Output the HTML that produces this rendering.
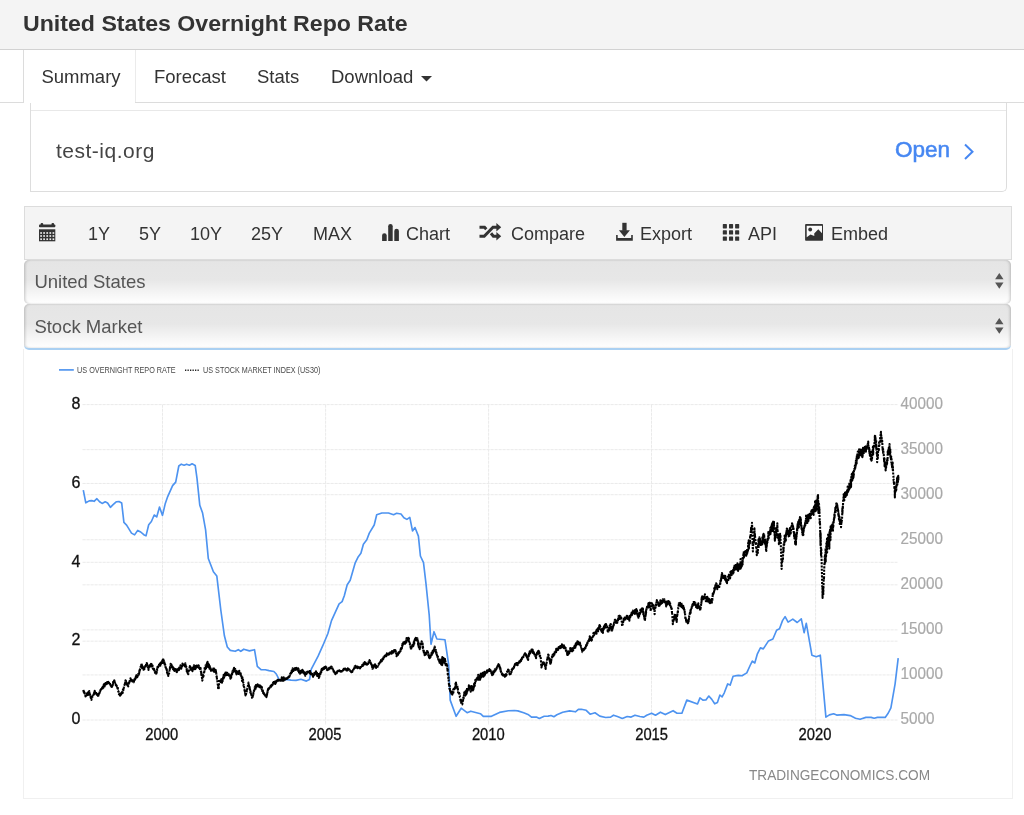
<!DOCTYPE html>
<html><head><meta charset="utf-8">
<style>
*{box-sizing:border-box;margin:0;padding:0}
html,body{width:1024px;height:815px;overflow:hidden;background:#fff;font-family:"Liberation Sans",sans-serif;color:#333}
.abs{position:absolute}
#hdr,#tabs,#ad,#tb,.sel{will-change:transform}
#hdr{position:absolute;left:0;top:0;width:1024px;height:50px;background:#f4f4f4;border-bottom:1px solid #d2d2d2}
#hdr h1{position:absolute;left:23px;top:11px;font-size:22px;font-weight:bold;color:#333;letter-spacing:0;transform:scaleX(1.052);transform-origin:0 0;white-space:nowrap}
#tabs{position:absolute;left:0;top:50px;width:1024px;height:53px}
.tab{position:absolute;top:15.5px;font-size:18.5px;color:#333;white-space:nowrap}
#tl1{position:absolute;left:0;top:52px;width:24px;height:1px;background:#dcdcdc}
#tl2{position:absolute;left:23px;top:0;width:1px;height:53px;background:#dcdcdc}
#tl3{position:absolute;left:135px;top:0;width:1px;height:53px;background:#ebebeb}
#tl4{position:absolute;left:135px;top:52px;width:889px;height:1px;background:#dcdcdc}
#ad{position:absolute;left:30px;top:103px;width:977px;height:89px;border:1px solid #ddd;border-top:none;border-radius:0 0 5px 0;background:#fff}
#ad .line{position:absolute;left:0;right:0;top:7px;height:1px;background:#e8e8e8}
#tb{position:absolute;left:24px;top:206px;width:988px;height:54px;background:#f4f4f4;border:1px solid #dcdcdc}
.ti{position:absolute;top:17px;font-size:18px;color:#333;white-space:nowrap}
.sel{position:absolute;left:24px;width:987px;border-radius:5px;background:linear-gradient(#e5e5e5,#e7e7e7 45%,#f7f7f7 80%,#fdfdfd 95%,#fefefe);box-shadow:inset 2px 0 3px -1px rgba(0,0,0,.2),inset -2px 0 3px -1px rgba(0,0,0,.2)}
.sel span{position:absolute;left:10.4px;font-size:18.5px;color:#555}
#chartbox{position:absolute;left:23px;top:349px;width:990px;height:450px;border:1px solid #f0f0f0;border-top:none}
</style></head><body>
<div id="hdr"><h1>United States Overnight Repo Rate</h1></div>
<div id="tabs">
  <div id="tl1"></div><div id="tl2"></div><div id="tl3"></div><div id="tl4"></div>
  <div class="tab" style="left:41.4px">Summary</div>
  <div class="tab" style="left:154px">Forecast</div>
  <div class="tab" style="left:257px">Stats</div>
  <div class="tab" style="left:331px">Download</div>
  <svg class="abs" style="left:421px;top:26px" width="11" height="6"><path d="M0 0 L11 0 L5.5 5.5 Z" fill="#333"/></svg>
</div>
<div id="ad"><div class="line"></div>
  <div class="abs" style="left:25px;top:36px;font-size:21px;letter-spacing:0.5px;color:#444">test-iq.org</div>
  <div class="abs" style="left:864px;top:34px;font-size:22.5px;color:#4687f2;-webkit-text-stroke:0.55px #4687f2">Open</div>
  <svg class="abs" style="left:932px;top:40px" width="12" height="18"><path d="M2 1.5 L9.5 8.7 L2 16" fill="none" stroke="#4687f2" stroke-width="2"/></svg>
</div>
<div id="tb">
  <!-- calendar -->
  <svg class="abs" style="left:13.6px;top:15.5px" width="17" height="19" viewBox="0 0 17 19">
    <rect x="1.6" y="0" width="2.6" height="3" rx="1" fill="#333"/><rect x="12.5" y="0" width="2.6" height="3" rx="1" fill="#333"/>
    <rect x="0" y="1.4" width="16.3" height="2.9" rx="0.8" fill="#333"/>
    <rect x="0" y="6.3" width="16.3" height="12" fill="#333"/>
    <g fill="#ececec"><rect x="1.25" y="9.15" width="1.7" height="1.7"/><rect x="4.25" y="9.15" width="1.7" height="1.7"/><rect x="7.35" y="9.15" width="1.7" height="1.7"/><rect x="10.45" y="9.15" width="1.7" height="1.7"/><rect x="13.55" y="9.15" width="1.7" height="1.7"/><rect x="1.25" y="12.15" width="1.7" height="1.7"/><rect x="4.25" y="12.15" width="1.7" height="1.7"/><rect x="7.35" y="12.15" width="1.7" height="1.7"/><rect x="10.45" y="12.15" width="1.7" height="1.7"/><rect x="13.55" y="12.15" width="1.7" height="1.7"/><rect x="1.25" y="15.35" width="1.7" height="1.7"/><rect x="4.25" y="15.35" width="1.7" height="1.7"/><rect x="7.35" y="15.35" width="1.7" height="1.7"/><rect x="10.45" y="15.35" width="1.7" height="1.7"/><rect x="13.55" y="15.35" width="1.7" height="1.7"/></g>
  </svg>
  <div class="ti" style="left:63px">1Y</div>
  <div class="ti" style="left:114px">5Y</div>
  <div class="ti" style="left:165px">10Y</div>
  <div class="ti" style="left:226px">25Y</div>
  <div class="ti" style="left:288px">MAX</div>
  <svg class="abs" style="left:355px;top:15px" width="21" height="20" viewBox="380 222 21 20"><g fill="#333"><path d="M382.1 240.9 V235.5 a2.3 2.3 0 0 1 4.6 0 V240.9 Z"/><path d="M388.2 240.9 V226.3 a2.25 2.25 0 0 1 4.5 0 V240.9 Z"/><path d="M394.3 240.9 V231 a2.3 2.3 0 0 1 4.6 0 V240.9 Z"/></g></svg>
  <div class="ti" style="left:381px">Chart</div>
  <svg class="abs" style="left:453px;top:14px" width="25" height="21" viewBox="478 221 25 21"><g fill="none" stroke="#333" stroke-width="3"><path d="M479.5 227.2 H484.5 L486.3 229.2"/><path d="M479.5 236.3 H484.2 L493 227.2 H497.5"/><path d="M491 233.3 L493.4 236.3 H497.5"/></g><g fill="#333"><path d="M496.4 222.9 L501.2 227.2 L496.4 231.4 Z"/><path d="M496.4 232.1 L501.2 236.3 L496.4 240.5 Z"/></g></svg>
  <div class="ti" style="left:486px">Compare</div>
  <svg class="abs" style="left:590px;top:15px" width="19" height="20" viewBox="615 222 19 20"><g fill="#333"><rect x="622.3" y="222.8" width="4.3" height="8"/><path d="M618.9 230.3 H629.9 L624.4 237.1 Z"/><path d="M616.1 235.1 V240.8 H632.8 V235.1 H631.2 V238.1 H617.7 V235.1 Z"/></g></svg>
  <div class="ti" style="left:615px">Export</div>
  <svg class="abs" style="left:697px;top:16px" width="18" height="19" viewBox="722 223 18 19"><g fill="#333"><rect x="722.8" y="224.1" width="4.1" height="4.3" rx="0.6"/><rect x="729" y="224.1" width="4.1" height="4.3" rx="0.6"/><rect x="735.1" y="224.1" width="4.1" height="4.3" rx="0.6"/><rect x="722.8" y="230.3" width="4.1" height="4.3" rx="0.6"/><rect x="729" y="230.3" width="4.1" height="4.3" rx="0.6"/><rect x="735.1" y="230.3" width="4.1" height="4.3" rx="0.6"/><rect x="722.8" y="236.5" width="4.1" height="4.3" rx="0.6"/><rect x="729" y="236.5" width="4.1" height="4.3" rx="0.6"/><rect x="735.1" y="236.5" width="4.1" height="4.3" rx="0.6"/></g></svg>
  <div class="ti" style="left:723px">API</div>
  <svg class="abs" style="left:779px;top:16px" width="20" height="19" viewBox="804 223 20 19"><rect x="805.1" y="224.1" width="17.9" height="16.7" rx="0.8" fill="#333"/><rect x="806.7" y="225.8" width="15.3" height="11.5" fill="#fafafa"/><circle cx="810.2" cy="229.5" r="1.9" fill="#333"/><path d="M806.7 237.3 L810.5 234.4 L814.3 236 L814.2 233.6 L818.3 229.2 L822 233.3 V238 H806.7 Z" fill="#333"/></svg>
  <div class="ti" style="left:806px">Embed</div>
</div>
<div class="sel" style="top:260px;height:43.5px"><span style="top:11.2px">United States</span>
  <svg class="abs" style="left:970.6px;top:13.3px" width="9" height="16" viewBox="0 0 9 16"><path d="M4.3 0 L8.5 6.3 H0.1 Z M4.3 15.7 L8.5 9.4 H0.1 Z" fill="#555"/></svg></div>
<div class="sel" style="top:304px;height:46px;border-bottom:2px solid #aad0f2"><span style="top:12.2px">Stock Market</span>
  <svg class="abs" style="left:970.6px;top:14.2px" width="9" height="16" viewBox="0 0 9 16"><path d="M4.3 0 L8.5 6.3 H0.1 Z M4.3 15.7 L8.5 9.4 H0.1 Z" fill="#555"/></svg></div>
<div id="chartbox"></div>
<svg class="abs" style="left:0;top:0" width="1024" height="815" viewBox="0 0 1024 815">
  <g stroke="#eaeaea" stroke-width="1" stroke-dasharray="3.2 0.8" fill="none">
    <path d="M82.5 404.6 H897.5 M82.5 449.66 H897.5 M82.5 483.45 H897.5 M82.5 494.71 H897.5 M82.5 539.77 H897.5 M82.5 562.3 H897.5 M82.5 584.83 H897.5 M82.5 629.89 H897.5 M82.5 641.15 H897.5 M82.5 674.94 H897.5 M82.5 720.0 H897.5"/>
    <path d="M162.5 404.6 V725 M325.6 404.6 V725 M488.6 404.6 V725 M651.5 404.6 V725 M815.6 404.6 V725"/>
  </g>
  <path d="M59 369.9 H73.8" stroke="#5c9cf0" stroke-width="1.8"/>
  <text x="77.1" y="373.3" font-size="8.6" fill="#484848" font-family="Liberation Sans" textLength="98.6" lengthAdjust="spacingAndGlyphs">US OVERNIGHT REPO RATE</text>
  <path d="M185 370.2 H200" stroke="#222" stroke-width="1.4" stroke-dasharray="1.3 1.2"/>
  <text x="203.1" y="373.3" font-size="8.6" fill="#484848" font-family="Liberation Sans" textLength="117.2" lengthAdjust="spacingAndGlyphs">US STOCK MARKET INDEX (US30)</text>
  <g font-size="16" fill="#111" stroke="#111" stroke-width="0.3" font-family="Liberation Sans" text-anchor="end">
    <text x="80.3" y="409">8</text><text x="80.3" y="487.8">6</text><text x="80.3" y="566.5">4</text><text x="80.3" y="645.3">2</text><text x="80.3" y="724">0</text>
  </g>
  <g font-size="16" fill="#111" stroke="#111" stroke-width="0.3" font-family="Liberation Sans">
    <text x="145.3" y="739.7" textLength="32.8" lengthAdjust="spacingAndGlyphs">2000</text><text x="308.6" y="739.7" textLength="32.8" lengthAdjust="spacingAndGlyphs">2005</text><text x="471.9" y="739.7" textLength="32.8" lengthAdjust="spacingAndGlyphs">2010</text><text x="635.2" y="739.7" textLength="32.8" lengthAdjust="spacingAndGlyphs">2015</text><text x="798.6" y="739.7" textLength="32.8" lengthAdjust="spacingAndGlyphs">2020</text>
  </g>
  <g font-size="16" fill="#a9a9a9" stroke="#a9a9a9" stroke-width="0.2" font-family="Liberation Sans">
    <text x="900.6" y="409" textLength="42.4" lengthAdjust="spacingAndGlyphs">40000</text><text x="900.6" y="454" textLength="42.4" lengthAdjust="spacingAndGlyphs">35000</text><text x="900.6" y="499" textLength="42.4" lengthAdjust="spacingAndGlyphs">30000</text><text x="900.6" y="544" textLength="42.4" lengthAdjust="spacingAndGlyphs">25000</text><text x="900.6" y="589" textLength="42.4" lengthAdjust="spacingAndGlyphs">20000</text><text x="900.6" y="634" textLength="42.4" lengthAdjust="spacingAndGlyphs">15000</text><text x="900.6" y="679" textLength="42.4" lengthAdjust="spacingAndGlyphs">10000</text><text x="900.6" y="724" textLength="33.9" lengthAdjust="spacingAndGlyphs">5000</text>
  </g>
  <text x="749" y="779.5" font-size="15.5" fill="#888" font-family="Liberation Sans" textLength="181" lengthAdjust="spacingAndGlyphs">TRADINGECONOMICS.COM</text>
  <path d="M83.3 490.2 L85.8 502.8 L89.2 500.9 L91.7 500.6 L94.1 501.3 L96.9 498.7 L99.6 501.8 L102.1 503.4 L105.2 501.8 L107.6 503.0 L110.4 507.3 L113.1 504.6 L116.2 501.8 L119.0 501.5 L121.7 503.0 L123.9 522.4 L126.6 525.1 L131.5 533.1 L134.6 534.9 L137.7 530.4 L140.7 532.0 L143.8 534.7 L146.0 535.9 L148.7 524.8 L151.4 521.5 L154.2 515.0 L156.7 516.9 L159.5 507.1 L162.5 515.4 L165.3 503.4 L167.7 496.6 L172.6 485.6 L175.7 482.1 L178.8 466.0 L181.3 464.2 L184.1 465.2 L186.6 464.2 L189.4 465.2 L192.1 463.8 L195.2 465.4 L197.0 478.3 L199.8 505.3 L202.5 512.7 L205.6 529.8 L208.3 558.5 L213.4 571.7 L216.8 575.9 L220.8 610.0 L224.4 635.8 L227.3 647.0 L230.3 650.4 L235.2 651.3 L238.3 649.7 L240.8 651.3 L243.8 649.2 L249.4 650.9 L254.5 649.7 L257.3 666.4 L261.0 669.7 L265.3 669.7 L269.0 670.6 L273.9 671.5 L276.3 674.0 L279.4 680.1 L286.2 679.5 L291.1 680.1 L296.0 680.4 L300.9 679.3 L306.4 681.1 L309.5 679.5 L311.3 669.1 L318.1 656.2 L323.0 645.2 L327.9 633.5 L331.5 620.6 L339.1 603.8 L342.1 601.6 L344.3 595.7 L347.2 584.7 L350.2 580.3 L355.3 562.6 L358.3 556.7 L360.9 553.3 L363.4 544.2 L366.8 539.8 L369.3 533.1 L374.2 525.0 L376.7 514.7 L381.9 513.0 L388.5 513.0 L393.6 514.7 L396.6 513.3 L401.0 514.0 L403.9 517.7 L406.9 519.4 L409.8 517.4 L412.5 530.9 L415.0 527.5 L418.4 536.1 L420.4 556.0 L423.5 562.6 L426.0 583.9 L429.2 615.0 L431.0 644.2 L434.0 631.7 L436.9 639.0 L445.0 639.8 L448.7 664.8 L450.2 700.1 L456.1 716.3 L461.2 708.2 L467.1 712.7 L470.8 711.2 L480.4 713.7 L483.3 716.3 L491.4 716.3 L499.5 712.4 L508.4 710.8 L514.3 710.5 L517.8 710.9 L523.7 712.8 L528.6 714.8 L531.5 717.1 L536.4 717.1 L539.3 718.5 L544.2 716.3 L548.1 716.1 L551.0 715.5 L553.9 716.7 L556.9 714.8 L562.7 712.2 L569.6 710.9 L575.4 711.8 L578.4 709.3 L581.3 709.3 L586.2 710.3 L590.1 714.2 L595.0 712.8 L599.8 716.1 L605.7 717.5 L610.6 717.1 L613.5 715.2 L617.4 716.5 L622.3 718.5 L627.2 716.5 L631.1 717.1 L635.0 715.2 L639.9 716.5 L643.8 717.1 L646.7 715.2 L651.6 713.2 L655.5 715.2 L660.4 712.2 L665.3 714.6 L673.1 710.7 L677.0 713.2 L681.9 713.2 L686.8 700.1 L697.5 704.0 L700.0 697.9 L702.9 700.1 L705.9 699.9 L708.8 696.0 L711.8 699.4 L714.7 703.8 L717.4 702.4 L719.9 695.0 L722.1 696.9 L724.3 692.8 L727.7 683.9 L730.2 685.1 L733.1 676.3 L738.3 675.4 L742.0 675.8 L746.8 672.9 L750.1 665.5 L752.3 661.1 L754.8 663.0 L757.4 653.8 L760.4 647.9 L763.3 648.9 L768.5 640.9 L772.9 639.0 L776.6 630.2 L779.5 628.7 L782.5 620.6 L785.1 616.6 L788.1 622.1 L792.8 619.1 L797.2 622.5 L801.3 618.9 L804.1 632.7 L806.3 623.3 L809.7 642.7 L811.9 655.2 L816.3 656.7 L820.3 655.2 L825.9 717.1 L829.4 714.9 L833.6 713.8 L836.7 715.1 L844.0 714.6 L850.2 715.6 L855.5 718.2 L860.1 719.2 L865.9 717.4 L871.1 717.4 L874.2 718.2 L877.4 717.4 L885.2 717.4 L888.3 713.0 L890.9 707.8 L895.1 683.8 L898.2 658.2" fill="none" stroke="#4d93f0" stroke-width="1.65" stroke-linejoin="round"/>
  <path d="M83.40 689.8 83.53 691.0 83.66 691.7 83.79 691.0 83.92 690.8 84.05 691.9 84.18 692.5 84.31 693.1 84.44 692.0 84.57 692.3 84.70 693.7 84.83 693.9 84.96 694.7 85.09 694.7 85.22 694.4 85.35 694.6 85.48 696.4 85.61 695.1 85.74 695.1 85.87 695.2 86.00 695.8 86.13 695.7 86.26 695.2 86.39 695.2 86.52 695.3 86.65 695.3 86.78 695.4 86.91 694.7 87.04 693.4 87.17 694.7 87.30 693.3 87.43 693.8 87.56 692.9 87.69 693.6 87.82 693.0 87.95 693.4 88.08 695.0 88.21 692.9 88.34 693.2 88.47 691.8 88.60 692.2 88.73 692.6 88.86 692.0 88.99 692.1 89.12 691.8 89.25 691.0 89.38 692.1 89.51 691.9 89.64 693.9 89.77 693.1 89.90 694.3 90.03 694.4 90.16 695.4 90.29 695.1 90.42 696.5 90.55 696.4 90.68 697.6 90.81 697.8 90.94 698.1 91.07 698.1 91.20 699.4 91.33 699.6 91.46 699.9 91.59 698.5 91.72 698.7 91.85 698.4 91.98 698.0 92.11 697.6 92.24 697.3 92.37 696.6 92.50 696.1 92.63 696.1 92.76 696.3 92.89 696.5 93.02 695.9 93.15 695.7 93.28 695.2 93.41 694.9 93.54 694.3 93.67 694.3 93.80 694.6 93.93 693.1 94.06 692.6 94.19 693.8 94.32 692.5 94.45 692.6 94.58 692.3 94.71 690.8 94.84 693.1 94.97 692.9 95.10 692.1 95.23 692.6 95.36 692.4 95.49 692.0 95.62 692.6 95.75 693.0 95.88 693.6 96.01 693.6 96.14 693.3 96.27 694.2 96.40 693.2 96.53 694.3 96.66 694.6 96.79 694.0 96.92 693.3 97.05 693.9 97.18 694.8 97.31 695.1 97.44 695.8 97.57 694.5 97.70 695.3 97.83 695.8 97.96 695.5 98.09 694.4 98.22 696.3 98.35 696.8 98.48 695.7 98.61 694.2 98.74 694.1 98.87 694.1 99.00 695.0 99.13 693.6 99.26 693.0 99.39 693.4 99.52 692.1 99.65 692.9 99.78 691.0 99.91 690.8 100.04 691.1 100.17 691.3 100.30 690.6 100.43 690.3 100.56 688.8 100.69 689.3 100.82 689.2 100.95 689.1 101.08 689.6 101.21 688.9 101.34 689.4 101.47 688.8 101.60 688.4 101.73 688.5 101.86 688.6 101.99 688.7 102.12 687.7 102.25 687.7 102.38 686.8 102.51 688.5 102.64 688.2 102.77 687.0 102.90 686.7 103.03 686.0 103.16 686.8 103.29 686.6 103.42 687.7 103.55 686.3 103.68 685.5 103.81 684.3 103.94 686.6 104.07 685.7 104.20 684.4 104.33 685.4 104.46 684.1 104.59 687.2 104.72 685.5 104.85 685.0 104.98 684.4 105.11 682.9 105.24 684.1 105.37 683.0 105.50 684.3 105.63 682.3 105.76 683.0 105.89 684.2 106.02 684.3 106.15 682.3 106.28 682.0 106.41 683.4 106.54 683.3 106.67 682.1 106.80 682.3 106.93 682.3 107.06 682.0 107.19 682.4 107.32 683.7 107.45 683.3 107.58 684.2 107.71 682.9 107.84 682.8 107.97 682.3 108.10 682.9 108.23 682.1 108.36 681.9 108.49 683.5 108.62 684.0 108.75 683.6 108.88 684.0 109.01 683.3 109.14 682.7 109.27 683.2 109.40 683.0 109.53 682.7 109.66 682.5 109.79 682.8 109.92 683.9 110.05 684.2 110.18 684.0 110.31 685.4 110.44 684.7 110.57 685.2 110.70 685.7 110.83 684.6 110.96 684.1 111.09 686.0 111.22 685.2 111.35 686.7 111.48 686.2 111.61 686.8 111.74 686.9 111.87 685.3 112.00 686.8 112.13 685.6 112.26 685.2 112.39 685.1 112.52 685.6 112.65 685.3 112.78 685.1 112.91 683.0 113.04 683.4 113.17 681.9 113.30 683.1 113.43 683.2 113.56 682.0 113.69 682.4 113.82 682.0 113.95 682.2 114.08 680.7 114.21 680.4 114.34 680.3 114.47 682.3 114.60 682.1 114.73 681.6 114.86 682.1 114.99 682.3 115.12 682.7 115.25 682.7 115.38 682.9 115.51 682.6 115.64 683.3 115.77 685.1 115.90 684.7 116.03 684.6 116.16 684.8 116.29 685.2 116.42 685.7 116.55 685.4 116.68 686.2 116.81 686.5 116.94 686.2 117.07 686.5 117.20 686.6 117.33 686.9 117.46 688.4 117.59 686.7 117.72 688.3 117.85 688.5 117.98 689.0 118.11 690.1 118.24 691.3 118.37 691.2 118.50 691.7 118.63 692.0 118.76 692.9 118.89 694.1 119.02 693.9 119.15 694.1 119.28 694.6 119.41 694.7 119.54 694.4 119.67 695.7 119.80 695.2 119.93 694.7 120.06 695.6 120.19 694.3 120.32 695.0 120.45 694.9 120.58 693.5 120.71 693.4 120.84 693.6 120.97 694.5 121.10 694.6 121.23 693.1 121.36 694.3 121.49 693.4 121.62 693.3 121.75 693.1 121.88 693.1 122.01 692.1 122.14 692.5 122.27 692.0 122.40 692.6 122.53 693.1 122.66 693.0 122.79 690.8 122.92 689.5 123.05 689.8 123.18 689.0 123.31 690.4 123.44 689.0 123.57 687.8 123.70 688.4 123.83 687.7 123.96 685.9 124.09 686.1 124.22 685.8 124.35 685.6 124.48 685.2 124.61 684.4 124.74 684.3 124.87 683.4 125.00 682.7 125.13 683.8 125.26 682.6 125.39 682.2 125.52 680.4 125.65 681.2 125.78 682.1 125.91 680.9 126.04 682.7 126.17 681.9 126.30 682.7 126.43 682.6 126.56 683.0 126.69 683.9 126.82 683.1 126.95 684.6 127.08 683.3 127.21 683.4 127.34 684.7 127.47 683.8 127.60 684.5 127.73 685.5 127.86 686.0 127.99 684.3 128.12 685.9 128.25 686.4 128.38 685.6 128.51 684.3 128.64 683.7 128.77 683.5 128.90 682.6 129.03 682.8 129.16 682.5 129.29 682.1 129.42 682.6 129.55 681.3 129.68 680.1 129.81 681.5 129.94 679.7 130.07 679.7 130.20 679.6 130.33 679.0 130.46 678.2 130.59 678.7 130.72 680.5 130.85 678.7 130.98 679.2 131.11 680.2 131.24 680.0 131.37 680.2 131.50 680.4 131.63 678.6 131.76 679.4 131.89 680.2 132.02 680.6 132.15 681.3 132.28 680.8 132.41 680.5 132.54 680.8 132.67 680.8 132.80 681.2 132.93 681.6 133.06 681.0 133.19 680.9 133.32 681.0 133.45 682.4 133.58 682.4 133.71 682.0 133.84 681.6 133.97 681.4 134.10 680.6 134.23 680.8 134.36 679.4 134.49 679.7 134.62 679.1 134.75 679.9 134.88 678.7 135.01 678.8 135.14 678.9 135.27 679.3 135.40 677.6 135.53 677.3 135.66 678.2 135.79 676.7 135.92 677.5 136.05 676.6 136.18 676.6 136.31 675.2 136.44 676.8 136.57 675.8 136.70 675.4 136.83 677.4 136.96 676.3 137.09 678.1 137.22 675.8 137.35 675.1 137.48 675.3 137.61 676.3 137.74 675.0 137.87 675.2 138.00 675.1 138.13 674.0 138.26 674.6 138.39 674.0 138.52 673.4 138.65 674.8 138.78 674.5 138.91 673.9 139.04 672.7 139.17 671.4 139.30 672.8 139.43 671.9 139.56 670.2 139.69 670.9 139.82 669.3 139.95 670.0 140.08 669.6 140.21 669.3 140.34 668.7 140.47 668.2 140.60 666.7 140.73 666.8 140.86 666.2 140.99 666.0 141.12 665.9 141.25 665.7 141.38 666.4 141.51 663.3 141.64 665.9 141.77 665.7 141.90 667.9 142.03 667.0 142.16 665.2 142.29 667.1 142.42 666.6 142.55 668.0 142.68 666.6 142.81 667.6 142.94 667.8 143.07 668.0 143.20 667.9 143.33 667.2 143.46 669.2 143.59 669.8 143.72 669.2 143.85 668.5 143.98 669.2 144.11 669.3 144.24 668.4 144.37 668.3 144.50 669.2 144.63 667.0 144.76 667.2 144.89 665.9 145.02 666.6 145.15 666.3 145.28 665.9 145.41 665.9 145.54 667.6 145.67 665.8 145.80 665.6 145.93 667.2 146.06 665.1 146.19 663.6 146.32 665.0 146.45 663.7 146.58 665.5 146.71 663.0 146.84 663.8 146.97 663.3 147.10 665.0 147.23 664.4 147.36 665.4 147.49 665.5 147.62 665.6 147.75 667.1 147.88 667.4 148.01 667.0 148.14 666.5 148.27 666.7 148.40 668.0 148.53 670.0 148.66 668.1 148.79 667.7 148.92 667.4 149.05 666.8 149.18 666.6 149.31 666.8 149.44 667.8 149.57 666.4 149.70 665.6 149.83 664.4 149.96 665.6 150.09 665.1 150.22 663.8 150.35 663.6 150.48 664.1 150.61 664.6 150.74 664.2 150.87 664.0 151.00 663.8 151.13 664.6 151.26 664.5 151.39 666.5 151.52 664.0 151.65 664.8 151.78 666.4 151.91 665.4 152.04 666.9 152.17 666.0 152.30 666.3 152.43 666.1 152.56 665.5 152.69 666.1 152.82 668.8 152.95 667.8 153.08 667.9 153.21 668.5 153.34 668.6 153.47 669.2 153.60 668.6 153.73 668.9 153.86 670.2 153.99 669.5 154.12 669.1 154.25 670.3 154.38 670.4 154.51 671.6 154.64 670.9 154.77 671.0 154.90 671.9 155.03 673.6 155.16 672.7 155.29 673.2 155.42 673.4 155.55 674.0 155.68 674.4 155.81 674.4 155.94 671.8 156.07 673.6 156.20 672.3 156.33 671.7 156.46 673.4 156.59 671.1 156.72 672.3 156.85 671.2 156.98 669.4 157.11 670.2 157.24 670.0 157.37 669.0 157.50 666.9 157.63 668.1 157.76 667.9 157.89 666.8 158.02 668.7 158.15 666.8 158.28 666.3 158.41 666.0 158.54 665.3 158.67 665.2 158.80 665.7 158.93 665.7 159.06 664.9 159.19 665.0 159.32 663.8 159.45 665.2 159.58 664.0 159.71 664.6 159.84 663.5 159.97 663.7 160.10 664.1 160.23 662.8 160.36 665.6 160.49 663.4 160.62 663.2 160.75 662.5 160.88 664.2 161.01 663.9 161.14 662.8 161.27 661.3 161.40 661.8 161.53 662.5 161.66 661.5 161.79 660.7 161.92 660.6 162.05 660.7 162.18 661.2 162.31 660.5 162.44 660.9 162.57 663.0 162.70 662.0 162.83 659.5 162.96 660.5 163.09 660.1 163.22 659.7 163.35 660.5 163.48 659.6 163.61 660.1 163.74 660.5 163.87 661.1 164.00 662.7 164.13 662.8 164.26 661.5 164.39 662.7 164.52 662.8 164.65 664.6 164.78 664.5 164.91 665.5 165.04 665.2 165.17 664.2 165.30 666.5 165.43 666.8 165.56 667.4 165.69 666.5 165.82 668.0 165.95 667.8 166.08 668.3 166.21 669.5 166.34 669.9 166.47 669.4 166.60 669.3 166.73 669.1 166.86 671.0 166.99 672.7 167.12 672.3 167.25 671.1 167.38 672.6 167.51 673.9 167.64 675.3 167.77 675.4 167.90 675.2 168.03 675.5 168.16 675.1 168.29 675.9 168.42 675.5 168.55 674.5 168.68 674.5 168.81 673.5 168.94 673.4 169.07 673.6 169.20 672.4 169.33 671.5 169.46 670.4 169.59 668.8 169.72 669.2 169.85 669.1 169.98 667.3 170.11 668.4 170.24 666.5 170.37 666.4 170.50 665.2 170.63 663.8 170.76 665.9 170.89 663.2 171.02 665.2 171.15 664.2 171.28 665.1 171.41 664.5 171.54 665.1 171.67 666.4 171.80 667.4 171.93 665.4 172.06 666.4 172.19 667.4 172.32 666.4 172.45 667.7 172.58 666.7 172.71 668.1 172.84 668.2 172.97 669.0 173.10 668.6 173.23 667.6 173.36 669.2 173.49 667.9 173.62 669.5 173.75 670.2 173.88 669.6 174.01 668.8 174.14 670.3 174.27 669.6 174.40 668.7 174.53 669.5 174.66 671.0 174.79 669.8 174.92 670.2 175.05 670.0 175.18 669.1 175.31 670.0 175.44 670.7 175.57 670.7 175.70 670.4 175.83 669.0 175.96 671.5 176.09 671.2 176.22 671.5 176.35 671.7 176.48 670.4 176.61 670.4 176.74 671.1 176.87 672.2 177.00 669.5 177.13 670.5 177.26 670.1 177.39 670.9 177.52 671.5 177.65 670.1 177.78 669.2 177.91 670.1 178.04 669.7 178.17 668.7 178.30 670.4 178.43 669.2 178.56 670.0 178.69 668.4 178.82 670.2 178.95 668.1 179.08 669.9 179.21 667.6 179.34 669.9 179.47 668.5 179.60 667.5 179.73 668.4 179.86 668.7 179.99 667.5 180.12 667.7 180.25 668.1 180.38 667.6 180.51 665.2 180.64 667.1 180.77 667.6 180.90 667.4 181.03 667.7 181.16 666.2 181.29 668.6 181.42 667.1 181.55 666.5 181.68 667.0 181.81 666.7 181.94 665.9 182.07 665.2 182.20 666.3 182.33 665.7 182.46 663.6 182.59 664.1 182.72 665.2 182.85 664.8 182.98 664.7 183.11 664.9 183.24 664.3 183.37 665.3 183.50 663.4 183.63 663.4 183.76 663.9 183.89 664.4 184.02 664.5 184.15 665.2 184.28 663.8 184.41 665.2 184.54 664.8 184.67 663.7 184.80 664.5 184.93 666.4 185.06 665.5 185.19 664.6 185.32 663.2 185.45 664.7 185.58 664.8 185.71 665.6 185.84 667.8 185.97 667.0 186.10 667.2 186.23 666.6 186.36 666.9 186.49 668.1 186.62 668.4 186.75 671.5 186.88 669.3 187.01 669.6 187.14 671.4 187.27 671.1 187.40 670.6 187.53 672.9 187.66 672.2 187.79 671.9 187.92 673.6 188.05 674.1 188.18 674.0 188.31 674.2 188.44 673.7 188.57 671.7 188.70 670.2 188.83 669.2 188.96 670.2 189.09 670.6 189.22 669.8 189.35 669.4 189.48 669.1 189.61 667.0 189.74 668.0 189.87 666.1 190.00 668.0 190.13 668.0 190.26 667.7 190.39 667.4 190.52 666.9 190.65 668.4 190.78 669.8 190.91 668.1 191.04 669.2 191.17 668.1 191.30 669.2 191.43 668.0 191.56 669.7 191.69 669.2 191.82 669.9 191.95 669.1 192.08 668.6 192.21 669.4 192.34 670.8 192.47 671.2 192.60 669.1 192.73 670.1 192.86 670.0 192.99 669.4 193.12 667.2 193.25 669.1 193.38 667.6 193.51 669.8 193.64 669.2 193.77 668.9 193.90 665.3 194.03 668.6 194.16 668.6 194.29 666.3 194.42 668.6 194.55 667.5 194.68 667.1 194.81 666.4 194.94 665.9 195.07 666.5 195.20 670.4 195.33 667.2 195.46 667.2 195.59 666.2 195.72 666.2 195.85 666.3 195.98 665.9 196.11 667.8 196.24 666.5 196.37 667.7 196.50 665.5 196.63 667.8 196.76 666.7 196.89 667.4 197.02 666.5 197.15 665.7 197.28 668.0 197.41 666.1 197.54 666.4 197.67 665.6 197.80 666.8 197.93 666.1 198.06 666.9 198.19 667.0 198.32 666.0 198.45 665.3 198.58 667.5 198.71 668.1 198.84 668.0 198.97 666.1 199.10 668.1 199.23 667.9 199.36 667.9 199.49 668.2 199.62 667.5 199.75 668.2 199.88 669.1 200.01 667.6 200.14 666.7 200.27 668.3 200.40 668.7 200.53 667.2 200.66 669.2 200.79 671.3 200.92 671.3 201.05 672.2 201.18 671.6 201.31 674.5 201.44 676.1 201.57 674.9 201.70 675.0 201.83 675.4 201.96 678.1 202.09 678.1 202.22 677.9 202.35 680.6 202.48 680.1 202.61 679.3 202.74 676.4 202.87 677.4 203.00 677.5 203.13 675.1 203.26 676.6 203.39 676.5 203.52 675.5 203.65 673.1 203.78 672.5 203.91 673.6 204.04 673.1 204.17 672.7 204.30 672.1 204.43 670.1 204.56 669.2 204.69 667.0 204.82 669.3 204.95 670.7 205.08 667.4 205.21 667.2 205.34 668.2 205.47 667.6 205.60 665.4 205.73 665.9 205.86 665.2 205.99 668.4 206.12 665.1 206.25 666.6 206.38 667.5 206.51 667.3 206.64 666.5 206.77 666.5 206.90 663.0 207.03 663.7 207.16 663.0 207.29 663.3 207.42 666.7 207.55 661.9 207.68 664.6 207.81 662.7 207.94 665.7 208.07 665.8 208.20 663.9 208.33 666.9 208.46 664.8 208.59 666.3 208.72 665.3 208.85 664.4 208.98 664.8 209.11 665.2 209.24 666.1 209.37 665.8 209.50 668.6 209.63 666.1 209.76 666.2 209.89 666.2 210.02 666.5 210.15 666.1 210.28 667.0 210.41 669.3 210.54 668.8 210.67 668.8 210.80 669.7 210.93 670.8 211.06 670.7 211.19 671.2 211.32 669.8 211.45 670.1 211.58 669.6 211.71 670.3 211.84 669.5 211.97 670.0 212.10 670.2 212.23 670.2 212.36 670.1 212.49 669.9 212.62 671.8 212.75 670.0 212.88 669.3 213.01 670.6 213.14 669.2 213.27 669.3 213.40 670.5 213.53 668.6 213.66 667.0 213.79 670.8 213.92 671.7 214.05 668.9 214.18 669.9 214.31 671.5 214.44 668.9 214.57 670.2 214.70 670.0 214.83 671.1 214.96 669.4 215.09 672.5 215.22 671.5 215.35 672.1 215.48 671.5 215.61 669.8 215.74 671.9 215.87 670.8 216.00 672.3 216.13 671.7 216.26 673.2 216.39 674.2 216.52 676.1 216.65 677.0 216.78 676.2 216.91 678.1 217.04 680.4 217.17 680.4 217.30 680.2 217.43 681.7 217.56 682.4 217.69 684.5 217.82 684.5 217.95 685.8 218.08 688.3 218.21 686.1 218.34 687.3 218.47 687.6 218.60 688.7 218.73 688.5 218.86 685.7 218.99 684.6 219.12 679.3 219.25 680.3 219.38 682.5 219.51 682.0 219.64 681.8 219.77 681.8 219.90 681.0 220.03 680.9 220.16 680.9 220.29 681.6 220.42 680.6 220.55 681.0 220.68 682.0 220.81 679.5 220.94 679.9 221.07 681.1 221.20 680.2 221.33 680.3 221.46 682.4 221.59 680.7 221.72 679.9 221.85 681.3 221.98 682.6 222.11 678.9 222.24 679.1 222.37 679.6 222.50 678.6 222.63 681.1 222.76 679.2 222.89 678.1 223.02 678.7 223.15 677.2 223.28 677.1 223.41 677.5 223.54 679.5 223.67 674.7 223.80 677.1 223.93 677.8 224.06 676.9 224.19 677.8 224.32 676.1 224.45 675.5 224.58 675.1 224.71 674.3 224.84 676.8 224.97 673.8 225.10 674.8 225.23 674.4 225.36 674.0 225.49 672.5 225.62 674.3 225.75 674.7 225.88 674.7 226.01 675.3 226.14 674.2 226.27 673.7 226.40 674.6 226.53 674.8 226.66 673.2 226.79 672.5 226.92 672.9 227.05 675.0 227.18 674.8 227.31 672.8 227.44 673.8 227.57 674.4 227.70 674.9 227.83 672.8 227.96 673.2 228.09 675.1 228.22 676.3 228.35 675.6 228.48 673.0 228.61 674.8 228.74 674.2 228.87 674.6 229.00 674.2 229.13 674.6 229.26 675.2 229.39 677.2 229.52 676.3 229.65 676.2 229.78 676.0 229.91 675.4 230.04 676.1 230.17 677.7 230.30 677.4 230.43 678.7 230.56 677.2 230.69 677.1 230.82 675.7 230.95 677.3 231.08 674.9 231.21 677.7 231.34 675.2 231.47 675.5 231.60 673.8 231.73 674.4 231.86 673.6 231.99 675.3 232.12 674.1 232.25 672.3 232.38 671.2 232.51 672.7 232.64 672.0 232.77 671.0 232.90 672.4 233.03 671.2 233.16 671.2 233.29 670.1 233.42 669.8 233.55 669.6 233.68 668.0 233.81 670.1 233.94 670.0 234.07 667.8 234.20 669.9 234.33 671.2 234.46 670.3 234.59 671.6 234.72 670.1 234.85 670.5 234.98 669.2 235.11 669.8 235.24 669.0 235.37 670.1 235.50 671.4 235.63 671.8 235.76 672.6 235.89 671.7 236.02 670.7 236.15 672.3 236.28 671.8 236.41 674.0 236.54 674.3 236.67 673.4 236.80 671.2 236.93 671.9 237.06 672.6 237.19 671.7 237.32 672.9 237.45 673.1 237.58 673.3 237.71 672.6 237.84 671.5 237.97 671.5 238.10 672.3 238.23 673.8 238.36 674.0 238.49 673.4 238.62 672.8 238.75 673.1 238.88 673.3 239.01 673.7 239.14 673.3 239.27 670.8 239.40 673.4 239.53 672.8 239.66 671.9 239.79 673.2 239.92 673.2 240.05 673.2 240.18 671.8 240.31 674.0 240.44 674.7 240.57 674.4 240.70 673.2 240.83 675.5 240.96 676.1 241.09 675.9 241.22 676.4 241.35 676.0 241.48 676.0 241.61 677.5 241.74 676.9 241.87 677.7 242.00 681.0 242.13 678.9 242.26 678.6 242.39 677.2 242.52 679.2 242.65 680.3 242.78 679.6 242.91 680.7 243.04 679.5 243.17 682.8 243.30 682.4 243.43 684.3 243.56 685.6 243.69 684.9 243.82 686.6 243.95 686.6 244.08 686.9 244.21 687.5 244.34 687.7 244.47 690.2 244.60 690.5 244.73 689.6 244.86 691.8 244.99 691.2 245.12 691.3 245.25 694.1 245.38 692.8 245.51 695.5 245.64 695.0 245.77 695.1 245.90 694.3 246.03 694.3 246.16 693.2 246.29 692.9 246.42 692.1 246.55 692.4 246.68 690.7 246.81 691.3 246.94 691.3 247.07 689.5 247.20 689.4 247.33 688.1 247.46 687.8 247.59 687.8 247.72 686.8 247.85 685.8 247.98 686.1 248.11 685.8 248.24 685.5 248.37 685.3 248.50 682.6 248.63 685.9 248.76 685.0 248.89 684.9 249.02 685.8 249.15 687.0 249.28 687.8 249.41 687.2 249.54 688.1 249.67 687.1 249.80 689.1 249.93 689.3 250.06 689.6 250.19 691.1 250.32 692.4 250.45 692.2 250.58 691.2 250.71 693.5 250.84 692.5 250.97 693.2 251.10 693.3 251.23 694.6 251.36 695.1 251.49 695.3 251.62 695.5 251.75 696.0 251.88 696.3 252.01 697.8 252.14 697.2 252.27 697.9 252.40 698.3 252.53 697.3 252.66 697.1 252.79 695.5 252.92 696.3 253.05 695.8 253.18 694.5 253.31 695.3 253.44 692.8 253.57 693.3 253.70 692.6 253.83 691.1 253.96 690.7 254.09 691.1 254.22 689.7 254.35 689.5 254.48 690.2 254.61 689.0 254.74 687.2 254.87 687.9 255.00 689.0 255.13 688.0 255.26 687.0 255.39 686.0 255.52 687.8 255.65 688.7 255.78 686.1 255.91 685.1 256.04 687.2 256.17 686.1 256.30 686.2 256.43 686.0 256.56 685.3 256.69 686.3 256.82 686.5 256.95 685.8 257.08 684.8 257.21 686.1 257.34 684.9 257.47 685.6 257.60 684.3 257.73 685.8 257.86 685.9 257.99 686.5 258.12 685.4 258.25 685.9 258.38 685.0 258.51 686.4 258.64 686.4 258.77 686.7 258.90 685.5 259.03 684.8 259.16 685.9 259.29 685.8 259.42 685.4 259.55 686.7 259.68 687.1 259.81 686.6 259.94 687.3 260.07 686.8 260.20 685.6 260.33 686.0 260.46 686.3 260.59 687.3 260.72 687.6 260.85 686.9 260.98 687.8 261.11 686.4 261.24 687.3 261.37 689.0 261.50 688.4 261.63 689.2 261.76 686.9 261.89 687.4 262.02 688.4 262.15 690.2 262.28 691.0 262.41 689.4 262.54 689.4 262.67 689.7 262.80 690.1 262.93 691.5 263.06 691.1 263.19 693.2 263.32 692.5 263.45 691.6 263.58 692.7 263.71 692.6 263.84 693.7 263.97 694.0 264.10 693.3 264.23 694.5 264.36 694.4 264.49 694.0 264.62 694.5 264.75 695.0 264.88 694.4 265.01 694.4 265.14 695.6 265.27 695.1 265.40 695.0 265.53 695.7 265.66 694.8 265.79 695.8 265.92 695.2 266.05 695.9 266.18 695.3 266.31 696.1 266.44 697.1 266.57 696.2 266.70 695.0 266.83 696.0 266.96 694.0 267.09 694.5 267.22 692.7 267.35 691.5 267.48 692.7 267.61 690.7 267.74 690.8 267.87 690.6 268.00 689.0 268.13 689.6 268.26 689.1 268.39 689.6 268.52 689.1 268.65 688.2 268.78 688.8 268.91 689.1 269.04 688.3 269.17 688.7 269.30 687.9 269.43 688.0 269.56 688.1 269.69 687.8 269.82 688.3 269.95 688.0 270.08 687.8 270.21 687.5 270.34 687.0 270.47 686.1 270.60 687.3 270.73 687.5 270.86 686.4 270.99 686.0 271.12 686.0 271.25 686.6 271.38 685.8 271.51 684.9 271.64 685.2 271.77 684.7 271.90 684.9 272.03 684.3 272.16 684.2 272.29 685.5 272.42 685.1 272.55 683.2 272.68 683.5 272.81 683.6 272.94 683.5 273.07 682.7 273.20 684.0 273.33 682.3 273.46 683.6 273.59 683.4 273.72 682.6 273.85 682.2 273.98 682.6 274.11 682.6 274.24 681.1 274.37 681.6 274.50 682.7 274.63 682.2 274.76 682.0 274.89 681.6 275.02 681.7 275.15 681.6 275.28 683.9 275.41 681.2 275.54 682.9 275.67 682.2 275.80 682.0 275.93 681.9 276.06 681.5 276.19 682.7 276.32 681.9 276.45 681.5 276.58 681.4 276.71 681.6 276.84 680.7 276.97 681.1 277.10 680.9 277.23 681.6 277.36 681.6 277.49 679.9 277.62 680.9 277.75 681.7 277.88 680.1 278.01 680.1 278.14 681.5 278.27 680.7 278.40 680.5 278.53 679.9 278.66 680.8 278.79 680.2 278.92 680.7 279.05 680.8 279.18 680.9 279.31 680.2 279.44 680.0 279.57 680.3 279.70 680.2 279.83 680.3 279.96 679.8 280.09 679.9 280.22 679.7 280.35 679.6 280.48 680.1 280.61 680.7 280.74 679.5 280.87 680.3 281.00 680.1 281.13 679.9 281.26 680.2 281.39 679.3 281.52 680.1 281.65 679.8 281.78 677.3 281.91 679.8 282.04 679.9 282.17 680.8 282.30 678.8 282.43 679.5 282.56 679.6 282.69 678.7 282.82 680.1 282.95 679.6 283.08 678.7 283.21 678.4 283.34 678.9 283.47 680.7 283.60 680.6 283.73 677.4 283.86 677.8 283.99 679.4 284.12 678.9 284.25 678.5 284.38 679.3 284.51 678.9 284.64 679.0 284.77 679.0 284.90 678.0 285.03 679.6 285.16 678.4 285.29 679.4 285.42 679.1 285.55 678.6 285.68 678.6 285.81 678.5 285.94 677.2 286.07 678.2 286.20 678.7 286.33 677.2 286.46 677.3 286.59 679.0 286.72 678.8 286.85 677.1 286.98 678.5 287.11 678.1 287.24 678.8 287.37 677.8 287.50 677.9 287.63 677.5 287.76 678.1 287.89 677.8 288.02 677.4 288.15 677.6 288.28 677.3 288.41 678.2 288.54 677.0 288.67 676.5 288.80 676.6 288.93 677.8 289.06 676.4 289.19 677.0 289.32 676.8 289.45 675.6 289.58 676.3 289.71 675.8 289.84 675.2 289.97 674.5 290.10 674.7 290.23 673.5 290.36 674.0 290.49 673.5 290.62 674.0 290.75 673.7 290.88 672.7 291.01 673.5 291.14 673.5 291.27 672.4 291.40 671.6 291.53 672.2 291.66 669.8 291.79 670.9 291.92 671.5 292.05 672.3 292.18 670.0 292.31 671.4 292.44 672.0 292.57 671.6 292.70 668.4 292.83 670.9 292.96 670.2 293.09 670.7 293.22 669.8 293.35 669.4 293.48 669.6 293.61 670.9 293.74 670.3 293.87 669.4 294.00 669.9 294.13 670.2 294.26 669.9 294.39 669.4 294.52 668.9 294.65 668.8 294.78 668.9 294.91 668.8 295.04 668.0 295.17 668.0 295.30 669.7 295.43 668.1 295.56 667.9 295.69 668.9 295.82 669.9 295.95 669.7 296.08 668.4 296.21 667.9 296.34 668.2 296.47 667.9 296.60 668.1 296.73 669.0 296.86 668.1 296.99 668.4 297.12 669.0 297.25 669.4 297.38 669.0 297.51 669.2 297.64 669.1 297.77 669.6 297.90 670.7 298.03 670.3 298.16 668.3 298.29 671.3 298.42 671.0 298.55 670.6 298.68 671.2 298.81 669.3 298.94 670.5 299.07 672.8 299.20 673.7 299.33 673.9 299.46 671.9 299.59 672.7 299.72 673.4 299.85 671.7 299.98 673.8 300.11 671.8 300.24 672.5 300.37 671.3 300.50 672.2 300.63 671.8 300.76 672.5 300.89 670.7 301.02 671.4 301.15 672.6 301.28 670.3 301.41 671.3 301.54 671.2 301.67 670.4 301.80 670.4 301.93 671.5 302.06 671.2 302.19 670.8 302.32 670.8 302.45 669.9 302.58 670.9 302.71 672.4 302.84 672.0 302.97 670.3 303.10 669.9 303.23 671.1 303.36 671.9 303.49 671.5 303.62 671.8 303.75 672.5 303.88 673.0 304.01 672.7 304.14 673.6 304.27 671.8 304.40 673.3 304.53 673.4 304.66 672.2 304.79 674.3 304.92 672.4 305.05 672.7 305.18 675.8 305.31 675.0 305.44 674.5 305.57 675.3 305.70 675.3 305.83 673.7 305.96 674.7 306.09 675.2 306.22 673.9 306.35 673.8 306.48 673.3 306.61 673.9 306.74 672.8 306.87 672.6 307.00 671.9 307.13 671.9 307.26 672.6 307.39 672.6 307.52 671.8 307.65 671.1 307.78 671.9 307.91 671.7 308.04 672.2 308.17 670.7 308.30 670.6 308.43 671.4 308.56 672.3 308.69 671.3 308.82 671.4 308.95 670.8 309.08 671.4 309.21 672.5 309.34 672.6 309.47 672.9 309.60 671.0 309.73 673.0 309.86 671.8 309.99 673.0 310.12 671.0 310.25 672.8 310.38 672.3 310.51 674.1 310.64 673.3 310.77 674.3 310.90 673.2 311.03 675.1 311.16 673.4 311.29 675.3 311.42 673.7 311.55 673.4 311.68 674.9 311.81 674.1 311.94 674.5 312.07 673.7 312.20 674.6 312.33 675.0 312.46 674.5 312.59 675.5 312.72 673.7 312.85 676.1 312.98 675.3 313.11 676.8 313.24 675.5 313.37 675.1 313.50 675.0 313.63 675.3 313.76 675.4 313.89 674.4 314.02 674.0 314.15 674.7 314.28 674.7 314.41 672.7 314.54 673.0 314.67 673.0 314.80 674.6 314.93 674.0 315.06 673.5 315.19 673.1 315.32 671.7 315.45 673.2 315.58 671.8 315.71 671.6 315.84 673.8 315.97 671.4 316.10 673.7 316.23 673.0 316.36 672.3 316.49 673.3 316.62 672.7 316.75 673.6 316.88 673.1 317.01 672.9 317.14 675.9 317.27 673.7 317.40 674.9 317.53 674.3 317.66 675.0 317.79 673.7 317.92 674.0 318.05 672.6 318.18 675.8 318.31 675.6 318.44 674.5 318.57 676.2 318.70 676.1 318.83 678.0 318.96 676.2 319.09 676.8 319.22 676.7 319.35 676.8 319.48 675.9 319.61 675.2 319.74 675.7 319.87 675.7 320.00 673.6 320.13 673.2 320.26 673.7 320.39 674.7 320.52 672.8 320.65 671.4 320.78 672.9 320.91 672.5 321.04 673.0 321.17 671.3 321.30 672.3 321.43 669.9 321.56 670.8 321.69 669.8 321.82 668.7 321.95 669.3 322.08 670.5 322.21 670.2 322.34 669.0 322.47 670.0 322.60 669.8 322.73 669.7 322.86 669.1 322.99 669.1 323.12 668.1 323.25 668.6 323.38 668.7 323.51 667.9 323.64 668.2 323.77 668.4 323.90 668.4 324.03 669.0 324.16 667.2 324.29 667.6 324.42 668.1 324.55 667.5 324.68 668.0 324.81 667.2 324.94 668.4 325.07 667.3 325.20 666.8 325.33 667.6 325.46 668.1 325.59 666.5 325.72 667.5 325.85 667.7 325.98 668.3 326.11 668.6 326.24 668.0 326.37 667.4 326.50 668.6 326.63 668.9 326.76 668.8 326.89 668.7 327.02 668.4 327.15 670.1 327.28 668.5 327.41 668.5 327.54 669.8 327.67 669.6 327.80 669.9 327.93 669.8 328.06 670.4 328.19 670.1 328.32 669.1 328.45 669.7 328.58 668.6 328.71 668.3 328.84 669.5 328.97 668.7 329.10 667.8 329.23 668.7 329.36 668.3 329.49 668.7 329.62 668.4 329.75 667.9 329.88 667.9 330.01 668.5 330.14 667.5 330.27 667.9 330.40 667.2 330.53 667.8 330.66 668.3 330.79 667.6 330.92 667.7 331.05 667.3 331.18 666.5 331.31 666.6 331.44 666.7 331.57 667.0 331.70 666.8 331.83 667.7 331.96 667.4 332.09 668.1 332.22 668.3 332.35 668.1 332.48 669.5 332.61 669.3 332.74 669.7 332.87 669.9 333.00 669.2 333.13 669.7 333.26 670.2 333.39 671.2 333.52 670.7 333.65 671.5 333.78 670.9 333.91 671.2 334.04 671.6 334.17 672.5 334.30 671.5 334.43 672.4 334.56 672.8 334.69 672.9 334.82 673.1 334.95 673.6 335.08 673.6 335.21 673.3 335.34 674.2 335.47 673.6 335.60 673.6 335.73 674.3 335.86 674.6 335.99 674.0 336.12 673.5 336.25 672.8 336.38 672.7 336.51 673.6 336.64 672.9 336.77 672.0 336.90 673.2 337.03 672.6 337.16 672.8 337.29 672.2 337.42 671.0 337.55 671.5 337.68 671.6 337.81 671.4 337.94 672.1 338.07 670.9 338.20 671.1 338.33 671.0 338.46 670.8 338.59 670.2 338.72 670.0 338.85 669.3 338.98 670.7 339.11 670.6 339.24 670.8 339.37 670.3 339.50 670.9 339.63 670.5 339.76 670.5 339.89 671.2 340.02 671.4 340.15 671.4 340.28 671.2 340.41 671.1 340.54 672.0 340.67 672.0 340.80 671.2 340.93 671.1 341.06 671.8 341.19 671.8 341.32 671.4 341.45 672.9 341.58 671.0 341.71 671.6 341.84 672.1 341.97 672.2 342.10 670.7 342.23 671.2 342.36 671.9 342.49 671.7 342.62 670.7 342.75 670.7 342.88 670.1 343.01 670.5 343.14 669.6 343.27 669.0 343.40 669.0 343.53 669.6 343.66 668.8 343.79 669.7 343.92 669.6 344.05 669.3 344.18 668.9 344.31 669.2 344.44 668.8 344.57 669.2 344.70 669.1 344.83 669.3 344.96 668.5 345.09 668.7 345.22 668.6 345.35 669.5 345.48 669.4 345.61 668.9 345.74 668.9 345.87 669.1 346.00 669.8 346.13 669.5 346.26 669.5 346.39 669.3 346.52 669.6 346.65 670.5 346.78 669.5 346.91 669.7 347.04 670.7 347.17 670.3 347.30 669.4 347.43 670.4 347.56 669.2 347.69 669.9 347.82 668.4 347.95 669.1 348.08 669.9 348.21 669.1 348.34 668.9 348.47 669.2 348.60 669.1 348.73 669.0 348.86 669.1 348.99 670.4 349.12 670.4 349.25 670.0 349.38 669.5 349.51 669.9 349.64 670.1 349.77 670.7 349.90 671.3 350.03 670.5 350.16 670.9 350.29 670.8 350.42 671.2 350.55 671.0 350.68 671.6 350.81 672.1 350.94 671.6 351.07 671.8 351.20 672.1 351.33 671.6 351.46 673.2 351.59 671.9 351.72 672.1 351.85 671.7 351.98 672.5 352.11 671.4 352.24 671.2 352.37 672.0 352.50 670.9 352.63 670.4 352.76 670.5 352.89 670.4 353.02 669.7 353.15 669.7 353.28 669.5 353.41 669.7 353.54 669.5 353.67 669.3 353.80 668.6 353.93 668.8 354.06 668.1 354.19 668.6 354.32 668.0 354.45 667.4 354.58 667.9 354.71 666.4 354.84 666.4 354.97 666.3 355.10 666.6 355.23 666.1 355.36 666.1 355.49 665.8 355.62 666.7 355.75 666.3 355.88 667.8 356.01 667.1 356.14 666.2 356.27 667.4 356.40 666.9 356.53 667.3 356.66 666.3 356.79 667.4 356.92 667.4 357.05 666.7 357.18 666.5 357.31 666.8 357.44 667.1 357.57 668.1 357.70 667.8 357.83 667.7 357.96 666.9 358.09 666.9 358.22 667.2 358.35 667.0 358.48 666.9 358.61 667.1 358.74 667.6 358.87 667.3 359.00 667.5 359.13 667.3 359.26 667.4 359.39 667.4 359.52 668.2 359.65 667.8 359.78 668.5 359.91 667.8 360.04 668.4 360.17 667.3 360.30 667.9 360.43 668.0 360.56 667.6 360.69 667.6 360.82 667.0 360.95 667.2 361.08 666.8 361.21 666.9 361.34 666.6 361.47 666.0 361.60 666.1 361.73 666.1 361.86 665.3 361.99 665.8 362.12 666.1 362.25 665.2 362.38 665.4 362.51 665.3 362.64 664.5 362.77 665.4 362.90 665.9 363.03 664.1 363.16 665.5 363.29 664.1 363.42 665.0 363.55 663.3 363.68 664.6 363.81 664.1 363.94 663.3 364.07 663.4 364.20 663.2 364.33 663.1 364.46 663.7 364.59 663.3 364.72 662.0 364.85 663.1 364.98 663.5 365.11 663.4 365.24 664.3 365.37 662.6 365.50 663.7 365.63 663.7 365.76 664.1 365.89 663.2 366.02 663.3 366.15 663.9 366.28 664.1 366.41 663.3 366.54 664.4 366.67 664.3 366.80 664.8 366.93 663.2 367.06 664.8 367.19 664.2 367.32 664.4 367.45 664.8 367.58 665.0 367.71 664.0 367.84 663.6 367.97 664.1 368.10 662.8 368.23 662.9 368.36 662.5 368.49 662.0 368.62 662.3 368.75 663.0 368.88 661.9 369.01 661.7 369.14 661.2 369.27 661.6 369.40 660.9 369.53 660.1 369.66 660.3 369.79 661.2 369.92 660.7 370.05 661.7 370.18 661.4 370.31 662.8 370.44 662.3 370.57 662.8 370.70 662.7 370.83 663.6 370.96 663.4 371.09 663.1 371.22 664.4 371.35 664.0 371.48 665.6 371.61 665.6 371.74 665.6 371.87 666.2 372.00 665.0 372.13 667.3 372.26 666.6 372.39 667.6 372.52 668.8 372.65 667.2 372.78 667.8 372.91 667.9 373.04 667.7 373.17 666.5 373.30 666.7 373.43 667.6 373.56 666.4 373.69 666.8 373.82 665.6 373.95 665.6 374.08 665.0 374.21 665.8 374.34 666.0 374.47 665.3 374.60 664.9 374.73 664.9 374.86 664.8 374.99 664.2 375.12 664.5 375.25 665.7 375.38 666.2 375.51 665.3 375.64 665.4 375.77 667.4 375.90 667.4 376.03 667.9 376.16 667.8 376.29 667.2 376.42 667.6 376.55 667.5 376.68 667.4 376.81 666.2 376.94 667.0 377.07 666.2 377.20 666.0 377.33 666.2 377.46 665.7 377.59 666.8 377.72 665.8 377.85 665.4 377.98 665.1 378.11 665.1 378.24 664.7 378.37 664.9 378.50 664.9 378.63 664.7 378.76 663.5 378.89 663.8 379.02 663.8 379.15 663.0 379.28 663.6 379.41 663.2 379.54 663.1 379.67 663.1 379.80 662.5 379.93 663.4 380.06 662.9 380.19 662.0 380.32 662.3 380.45 662.3 380.58 661.4 380.71 661.4 380.84 661.8 380.97 660.0 381.10 660.4 381.23 661.1 381.36 661.0 381.49 660.1 381.62 660.8 381.75 661.3 381.88 660.1 382.01 659.8 382.14 659.7 382.27 659.0 382.40 659.6 382.53 659.2 382.66 659.3 382.79 659.5 382.92 658.6 383.05 658.5 383.18 658.4 383.31 659.0 383.44 657.2 383.57 657.7 383.70 657.2 383.83 657.5 383.96 657.6 384.09 657.1 384.22 657.2 384.35 656.8 384.48 656.1 384.61 656.0 384.74 655.4 384.87 656.1 385.00 655.6 385.13 656.2 385.26 656.2 385.39 655.1 385.52 655.0 385.65 655.8 385.78 655.0 385.91 655.5 386.04 655.6 386.17 655.0 386.30 656.1 386.43 654.7 386.56 655.3 386.69 654.8 386.82 653.4 386.95 654.8 387.08 654.7 387.21 655.0 387.34 654.6 387.47 654.2 387.60 654.3 387.73 654.3 387.86 654.8 387.99 654.2 388.12 654.9 388.25 654.7 388.38 653.8 388.51 654.6 388.64 652.8 388.77 654.0 388.90 653.4 389.03 653.8 389.16 654.4 389.29 653.7 389.42 653.5 389.55 654.2 389.68 653.1 389.81 653.0 389.94 653.9 390.07 653.6 390.20 652.4 390.33 653.2 390.46 653.5 390.59 652.9 390.72 652.7 390.85 652.9 390.98 652.9 391.11 652.3 391.24 653.1 391.37 651.7 391.50 652.4 391.63 653.6 391.76 651.8 391.89 652.3 392.02 651.0 392.15 651.7 392.28 651.4 392.41 652.0 392.54 651.6 392.67 652.8 392.80 651.3 392.93 651.7 393.06 651.7 393.19 651.9 393.32 652.0 393.45 650.6 393.58 652.5 393.71 651.1 393.84 650.8 393.97 650.2 394.10 650.8 394.23 650.0 394.36 651.0 394.49 650.5 394.62 651.0 394.75 650.3 394.88 650.7 395.01 651.8 395.14 651.1 395.27 650.5 395.40 650.2 395.53 652.1 395.66 650.9 395.79 651.5 395.92 653.5 396.05 653.0 396.18 654.5 396.31 654.6 396.44 656.0 396.57 656.2 396.70 656.1 396.83 655.3 396.96 655.8 397.09 656.1 397.22 655.2 397.35 653.5 397.48 654.6 397.61 654.5 397.74 654.5 397.87 654.1 398.00 654.8 398.13 653.3 398.26 654.1 398.39 652.6 398.52 652.3 398.65 652.8 398.78 652.8 398.91 652.5 399.04 652.5 399.17 653.0 399.30 652.8 399.43 652.4 399.56 652.3 399.69 651.7 399.82 651.3 399.95 650.9 400.08 651.2 400.21 650.3 400.34 650.7 400.47 651.3 400.60 650.8 400.73 651.1 400.86 648.7 400.99 647.1 401.12 647.7 401.25 650.3 401.38 648.7 401.51 647.2 401.64 648.5 401.77 646.5 401.90 648.1 402.03 645.8 402.16 645.4 402.29 646.1 402.42 643.9 402.55 644.5 402.68 646.2 402.81 644.4 402.94 642.5 403.07 642.9 403.20 643.1 403.33 642.3 403.46 643.4 403.59 644.2 403.72 643.0 403.85 643.8 403.98 643.2 404.11 643.0 404.24 642.1 404.37 643.8 404.50 644.1 404.63 642.4 404.76 641.9 404.89 643.3 405.02 642.8 405.15 643.8 405.28 643.1 405.41 642.5 405.54 641.3 405.67 643.1 405.80 642.5 405.93 641.0 406.06 640.6 406.19 640.1 406.32 642.3 406.45 641.1 406.58 638.1 406.71 640.4 406.84 640.5 406.97 640.8 407.10 640.8 407.23 640.3 407.36 641.2 407.49 641.3 407.62 639.9 407.75 641.6 407.88 639.7 408.01 638.8 408.14 639.7 408.27 637.9 408.40 638.9 408.53 638.1 408.66 639.3 408.79 640.4 408.92 638.2 409.05 641.6 409.18 641.9 409.31 641.9 409.44 643.3 409.57 643.5 409.70 643.3 409.83 643.1 409.96 645.3 410.09 645.8 410.22 644.2 410.35 645.4 410.48 645.4 410.61 647.8 410.74 647.0 410.87 646.8 411.00 649.9 411.13 648.7 411.26 648.2 411.39 648.0 411.52 647.4 411.65 647.3 411.78 647.9 411.91 647.2 412.04 646.1 412.17 646.4 412.30 647.8 412.43 645.3 412.56 644.3 412.69 645.4 412.82 644.0 412.95 647.4 413.08 645.2 413.21 644.9 413.34 644.5 413.47 645.7 413.60 642.5 413.73 643.1 413.86 641.2 413.99 643.7 414.12 642.1 414.25 643.6 414.38 641.2 414.51 640.2 414.64 640.2 414.77 641.3 414.90 639.4 415.03 640.1 415.16 638.8 415.29 638.5 415.42 638.3 415.55 640.2 415.68 637.2 415.81 638.2 415.94 638.6 416.07 637.3 416.20 636.8 416.33 640.1 416.46 640.6 416.59 638.9 416.72 638.2 416.85 640.5 416.98 639.9 417.11 639.3 417.24 640.1 417.37 638.3 417.50 640.2 417.63 640.0 417.76 640.2 417.89 642.6 418.02 642.9 418.15 644.9 418.28 641.2 418.41 643.7 418.54 644.2 418.67 646.9 418.80 647.2 418.93 646.9 419.06 647.5 419.19 647.3 419.32 648.0 419.45 647.7 419.58 645.4 419.71 649.2 419.84 647.8 419.97 648.8 420.10 647.6 420.23 646.6 420.36 646.6 420.49 643.8 420.62 644.1 420.75 645.6 420.88 644.1 421.01 642.5 421.14 643.8 421.27 642.2 421.40 643.1 421.53 644.3 421.66 641.3 421.79 641.7 421.92 643.2 422.05 643.2 422.18 644.1 422.31 643.7 422.44 644.8 422.57 643.4 422.70 646.2 422.83 648.2 422.96 646.5 423.09 648.0 423.22 649.5 423.35 650.5 423.48 651.1 423.61 649.8 423.74 650.9 423.87 653.5 424.00 652.1 424.13 653.3 424.26 652.9 424.39 653.7 424.52 652.3 424.65 655.1 424.78 653.7 424.91 654.5 425.04 654.3 425.17 656.2 425.30 655.4 425.43 654.9 425.56 653.8 425.69 652.8 425.82 654.2 425.95 652.8 426.08 653.2 426.21 654.0 426.34 652.7 426.47 652.6 426.60 651.5 426.73 653.2 426.86 652.5 426.99 652.4 427.12 653.0 427.25 650.0 427.38 651.9 427.51 652.8 427.64 652.9 427.77 653.3 427.90 653.8 428.03 652.3 428.16 654.0 428.29 655.5 428.42 654.8 428.55 655.0 428.68 656.3 428.81 654.4 428.94 656.7 429.07 658.0 429.20 656.8 429.33 656.7 429.46 658.2 429.59 657.8 429.72 657.2 429.85 657.8 429.98 656.0 430.11 657.7 430.24 655.8 430.37 656.1 430.50 657.0 430.63 656.1 430.76 656.1 430.89 656.8 431.02 656.7 431.15 656.9 431.28 654.3 431.41 655.3 431.54 652.8 431.67 654.7 431.80 654.9 431.93 652.8 432.06 653.6 432.19 653.7 432.32 652.5 432.45 651.8 432.58 653.5 432.71 650.7 432.84 651.8 432.97 652.2 433.10 651.3 433.23 652.3 433.36 652.0 433.49 650.8 433.62 651.7 433.75 650.5 433.88 648.4 434.01 649.0 434.14 649.3 434.27 648.9 434.40 646.9 434.53 650.4 434.66 646.5 434.79 647.1 434.92 649.0 435.05 649.1 435.18 650.7 435.31 649.9 435.44 650.4 435.57 651.1 435.70 650.2 435.83 650.0 435.96 651.2 436.09 652.9 436.22 652.1 436.35 653.9 436.48 652.6 436.61 654.2 436.74 653.9 436.87 655.1 437.00 654.7 437.13 655.3 437.26 655.0 437.39 657.0 437.52 656.2 437.65 657.1 437.78 657.6 437.91 656.6 438.04 657.1 438.17 658.1 438.30 659.6 438.43 658.0 438.56 658.4 438.69 658.9 438.82 659.8 438.95 659.6 439.08 660.2 439.21 661.7 439.34 660.7 439.47 662.0 439.60 661.4 439.73 662.6 439.86 663.6 439.99 661.5 440.12 663.1 440.25 663.3 440.38 662.7 440.51 663.1 440.64 663.3 440.77 660.0 440.90 662.0 441.03 663.3 441.16 664.4 441.29 659.4 441.42 660.7 441.55 659.1 441.68 661.5 441.81 659.4 441.94 659.4 442.07 662.5 442.20 665.1 442.33 657.0 442.46 663.8 442.59 658.9 442.72 661.7 442.85 661.0 442.98 662.5 443.11 659.7 443.24 658.4 443.37 659.7 443.50 661.1 443.63 658.0 443.76 660.6 443.89 660.1 444.02 660.7 444.15 660.6 444.28 662.0 444.41 662.6 444.54 660.8 444.67 660.9 444.80 657.9 444.93 660.4 445.06 659.5 445.19 663.8 445.32 660.8 445.45 661.7 445.58 664.2 445.71 665.3 445.84 665.9 445.97 662.5 446.10 664.7 446.23 666.4 446.36 663.2 446.49 664.5 446.62 663.0 446.75 664.3 446.88 666.9 447.01 666.1 447.14 665.5 447.27 666.0 447.40 670.8 447.53 670.7 447.66 668.6 447.79 675.5 447.92 672.5 448.05 674.2 448.18 674.9 448.31 676.1 448.44 679.2 448.57 677.2 448.70 680.7 448.83 681.5 448.96 685.7 449.09 685.0 449.22 686.3 449.35 687.7 449.48 689.0 449.61 688.8 449.74 685.7 449.87 689.9 450.00 689.3 450.13 691.0 450.26 690.8 450.39 690.1 450.52 689.9 450.65 690.1 450.78 692.2 450.91 692.0 451.04 691.4 451.17 692.4 451.30 693.7 451.43 692.7 451.56 693.7 451.69 693.5 451.82 690.8 451.95 693.9 452.08 693.5 452.21 694.2 452.34 694.6 452.47 691.7 452.60 693.1 452.73 692.4 452.86 691.9 452.99 692.6 453.12 692.3 453.25 689.2 453.38 692.6 453.51 690.1 453.64 689.2 453.77 688.8 453.90 689.2 454.03 687.7 454.16 690.4 454.29 689.2 454.42 687.1 454.55 689.2 454.68 688.1 454.81 687.6 454.94 688.5 455.07 686.8 455.20 686.3 455.33 687.1 455.46 683.5 455.59 684.1 455.72 686.2 455.85 686.7 455.98 682.6 456.11 684.7 456.24 684.1 456.37 685.0 456.50 686.6 456.63 688.3 456.76 689.0 456.89 688.2 457.02 688.1 457.15 687.8 457.28 685.4 457.41 688.9 457.54 687.1 457.67 687.6 457.80 689.6 457.93 687.7 458.06 692.5 458.19 691.3 458.32 691.4 458.45 691.9 458.58 691.9 458.71 692.1 458.84 693.2 458.97 691.8 459.10 693.6 459.23 694.0 459.36 695.3 459.49 693.5 459.62 695.7 459.75 695.8 459.88 697.2 460.01 697.6 460.14 697.8 460.27 698.6 460.40 699.1 460.53 700.8 460.66 700.1 460.79 700.9 460.92 699.7 461.05 701.1 461.18 702.7 461.31 703.6 461.44 701.9 461.57 703.5 461.70 703.7 461.83 704.6 461.96 704.6 462.09 704.4 462.22 704.1 462.35 703.7 462.48 704.0 462.61 701.3 462.74 700.5 462.87 701.8 463.00 700.9 463.13 699.4 463.26 697.6 463.39 699.6 463.52 696.4 463.65 698.4 463.78 696.7 463.91 695.6 464.04 694.9 464.17 695.5 464.30 694.2 464.43 691.8 464.56 693.0 464.69 691.0 464.82 694.0 464.95 694.5 465.08 694.5 465.21 691.3 465.34 695.6 465.47 695.0 465.60 692.4 465.73 689.8 465.86 691.1 465.99 693.4 466.12 694.5 466.25 691.0 466.38 689.2 466.51 690.1 466.64 693.7 466.77 691.1 466.90 689.1 467.03 688.0 467.16 691.4 467.29 691.5 467.42 689.6 467.55 689.8 467.68 690.0 467.81 689.3 467.94 688.9 468.07 688.7 468.20 688.5 468.33 690.8 468.46 689.5 468.59 690.2 468.72 691.1 468.85 685.4 468.98 688.2 469.11 689.4 469.24 687.7 469.37 687.0 469.50 688.2 469.63 686.8 469.76 686.2 469.89 686.7 470.02 687.1 470.15 687.0 470.28 688.3 470.41 687.2 470.54 686.7 470.67 691.6 470.80 687.3 470.93 687.3 471.06 687.7 471.19 687.0 471.32 686.0 471.45 688.5 471.58 690.3 471.71 686.0 471.84 687.6 471.97 689.3 472.10 688.0 472.23 689.7 472.36 689.1 472.49 687.8 472.62 689.1 472.75 688.8 472.88 690.4 473.01 686.4 473.14 689.9 473.27 690.7 473.40 688.7 473.53 688.4 473.66 687.0 473.79 687.7 473.92 686.7 474.05 684.7 474.18 684.4 474.31 682.4 474.44 685.8 474.57 685.1 474.70 686.0 474.83 684.4 474.96 684.6 475.09 681.2 475.22 680.0 475.35 681.5 475.48 681.4 475.61 682.1 475.74 680.9 475.87 680.4 476.00 680.3 476.13 680.6 476.26 680.4 476.39 680.4 476.52 679.1 476.65 679.6 476.78 677.4 476.91 677.9 477.04 679.0 477.17 680.0 477.30 678.1 477.43 677.0 477.56 680.5 477.69 677.7 477.82 676.2 477.95 677.2 478.08 676.8 478.21 674.8 478.34 677.8 478.47 680.9 478.60 677.0 478.73 676.8 478.86 679.7 478.99 678.0 479.12 677.6 479.25 679.8 479.38 675.7 479.51 677.4 479.64 678.1 479.77 677.5 479.90 675.3 480.03 675.6 480.16 679.7 480.29 676.7 480.42 676.3 480.55 678.3 480.68 673.7 480.81 676.3 480.94 673.5 481.07 678.4 481.20 674.5 481.33 676.2 481.46 674.4 481.59 676.0 481.72 676.2 481.85 675.6 481.98 674.9 482.11 675.7 482.24 674.9 482.37 674.3 482.50 676.0 482.63 676.3 482.76 672.7 482.89 673.1 483.02 673.4 483.15 675.0 483.28 672.2 483.41 676.8 483.54 674.2 483.67 674.3 483.80 675.3 483.93 672.6 484.06 674.3 484.19 674.3 484.32 675.6 484.45 671.7 484.58 675.5 484.71 674.1 484.84 673.4 484.97 674.6 485.10 672.6 485.23 672.6 485.36 673.2 485.49 672.2 485.62 673.2 485.75 673.3 485.88 672.3 486.01 672.1 486.14 671.4 486.27 671.1 486.40 672.7 486.53 670.8 486.66 671.5 486.79 671.5 486.92 670.5 487.05 670.6 487.18 670.5 487.31 672.5 487.44 671.0 487.57 671.7 487.70 672.1 487.83 671.2 487.96 671.3 488.09 669.8 488.22 669.5 488.35 671.1 488.48 670.9 488.61 668.9 488.74 670.5 488.87 669.7 489.00 670.0 489.13 670.0 489.26 670.8 489.39 669.1 489.52 669.8 489.65 670.9 489.78 670.0 489.91 670.8 490.04 670.6 490.17 669.6 490.30 670.7 490.43 672.0 490.56 671.2 490.69 670.6 490.82 671.6 490.95 672.3 491.08 672.8 491.21 672.9 491.34 673.3 491.47 672.4 491.60 672.9 491.73 673.0 491.86 673.5 491.99 674.4 492.12 675.2 492.25 674.2 492.38 674.9 492.51 674.8 492.64 672.9 492.77 673.0 492.90 673.5 493.03 672.2 493.16 674.4 493.29 671.4 493.42 671.7 493.55 673.0 493.68 671.7 493.81 672.6 493.94 671.2 494.07 672.5 494.20 671.1 494.33 671.9 494.46 671.9 494.59 669.8 494.72 670.1 494.85 669.2 494.98 669.5 495.11 670.9 495.24 670.0 495.37 670.5 495.50 670.7 495.63 670.2 495.76 669.8 495.89 668.7 496.02 668.6 496.15 668.9 496.28 669.2 496.41 669.1 496.54 668.3 496.67 667.7 496.80 667.7 496.93 668.8 497.06 667.6 497.19 668.7 497.32 666.4 497.45 667.5 497.58 666.8 497.71 667.0 497.84 665.6 497.97 666.3 498.10 665.8 498.23 665.4 498.36 664.5 498.49 664.2 498.62 664.8 498.75 665.3 498.88 665.3 499.01 665.6 499.14 666.0 499.27 665.1 499.40 667.3 499.53 666.9 499.66 666.6 499.79 667.2 499.92 668.7 500.05 668.4 500.18 667.6 500.31 670.4 500.44 668.4 500.57 670.9 500.70 670.7 500.83 669.8 500.96 671.6 501.09 672.0 501.22 672.2 501.35 672.3 501.48 672.5 501.61 672.8 501.74 672.7 501.87 673.5 502.00 674.5 502.13 674.0 502.26 675.7 502.39 673.9 502.52 675.2 502.65 674.3 502.78 674.2 502.91 675.5 503.04 675.2 503.17 675.1 503.30 674.9 503.43 675.5 503.56 674.7 503.69 675.6 503.82 675.5 503.95 675.1 504.08 676.2 504.21 674.9 504.34 676.3 504.47 676.3 504.60 676.5 504.73 676.4 504.86 676.8 504.99 676.3 505.12 675.8 505.25 676.8 505.38 676.1 505.51 676.1 505.64 676.1 505.77 675.2 505.90 676.0 506.03 674.1 506.16 675.5 506.29 674.4 506.42 675.2 506.55 674.5 506.68 673.9 506.81 673.3 506.94 672.9 507.07 671.6 507.20 671.8 507.33 671.3 507.46 671.1 507.59 671.1 507.72 670.4 507.85 670.7 507.98 670.1 508.11 669.6 508.24 669.9 508.37 669.6 508.50 668.7 508.63 669.9 508.76 672.4 508.89 671.1 509.02 671.8 509.15 671.5 509.28 673.1 509.41 673.9 509.54 673.8 509.67 673.9 509.80 674.4 509.93 673.0 510.06 674.3 510.19 673.5 510.32 673.7 510.45 673.4 510.58 673.1 510.71 674.0 510.84 673.0 510.97 671.8 511.10 672.4 511.23 672.1 511.36 671.5 511.49 672.1 511.62 670.8 511.75 669.6 511.88 669.8 512.01 670.5 512.14 669.4 512.27 669.9 512.40 668.6 512.53 669.5 512.66 668.9 512.79 668.2 512.92 668.2 513.05 668.1 513.18 668.7 513.31 668.0 513.44 667.4 513.57 667.4 513.70 667.7 513.83 667.2 513.96 667.8 514.09 665.9 514.22 666.7 514.35 666.0 514.48 665.2 514.61 665.8 514.74 665.7 514.87 665.6 515.00 665.0 515.13 663.8 515.26 664.3 515.39 664.2 515.52 664.8 515.65 663.5 515.78 663.5 515.91 664.6 516.04 663.6 516.17 663.4 516.30 664.0 516.43 664.4 516.56 664.1 516.69 663.0 516.82 663.9 516.95 665.0 517.08 663.9 517.21 665.1 517.34 664.7 517.47 664.2 517.60 665.1 517.73 663.0 517.86 662.8 517.99 663.0 518.12 664.2 518.25 663.5 518.38 663.9 518.51 663.3 518.64 663.2 518.77 662.6 518.90 662.5 519.03 663.3 519.16 663.0 519.29 661.3 519.42 662.5 519.55 663.3 519.68 662.2 519.81 660.9 519.94 661.9 520.07 661.3 520.20 660.8 520.33 661.5 520.46 661.5 520.59 660.1 520.72 660.3 520.85 659.8 520.98 659.9 521.11 660.9 521.24 659.2 521.37 659.8 521.50 659.4 521.63 659.1 521.76 658.0 521.89 659.1 522.02 657.7 522.15 658.8 522.28 658.0 522.41 658.0 522.54 657.4 522.67 656.9 522.80 656.6 522.93 657.2 523.06 656.9 523.19 657.0 523.32 656.4 523.45 657.0 523.58 656.3 523.71 656.1 523.84 655.7 523.97 655.7 524.10 656.0 524.23 654.8 524.36 654.2 524.49 655.2 524.62 655.1 524.75 654.6 524.88 654.6 525.01 653.2 525.14 653.3 525.27 653.8 525.40 653.6 525.53 653.0 525.66 654.6 525.79 653.2 525.92 655.8 526.05 654.5 526.18 655.2 526.31 655.1 526.44 655.2 526.57 656.3 526.70 655.5 526.83 656.9 526.96 657.6 527.09 657.6 527.22 658.1 527.35 657.4 527.48 657.5 527.61 658.2 527.74 660.2 527.87 660.0 528.00 658.0 528.13 659.9 528.26 658.4 528.39 658.1 528.52 657.4 528.65 656.9 528.78 654.0 528.91 654.7 529.04 653.4 529.17 655.0 529.30 653.9 529.43 653.2 529.56 652.9 529.69 651.3 529.82 652.8 529.95 652.0 530.08 653.5 530.21 652.9 530.34 652.1 530.47 651.7 530.60 652.7 530.73 651.3 530.86 652.4 530.99 651.5 531.12 651.0 531.25 651.3 531.38 652.2 531.51 649.5 531.64 651.2 531.77 651.0 531.90 650.1 532.03 651.3 532.16 650.5 532.29 650.5 532.42 649.6 532.55 651.0 532.68 649.8 532.81 651.4 532.94 652.9 533.07 650.8 533.20 652.9 533.33 651.2 533.46 652.3 533.59 653.0 533.72 651.6 533.85 653.2 533.98 652.6 534.11 653.0 534.24 654.3 534.37 653.9 534.50 654.5 534.63 654.4 534.76 654.9 534.89 656.0 535.02 655.2 535.15 655.1 535.28 655.6 535.41 656.4 535.54 656.4 535.67 654.7 535.80 656.5 535.93 657.0 536.06 658.2 536.19 655.6 536.32 655.5 536.45 654.5 536.58 654.9 536.71 653.4 536.84 653.7 536.97 653.9 537.10 652.5 537.23 653.1 537.36 652.5 537.49 653.6 537.62 653.6 537.75 653.6 537.88 651.8 538.01 651.9 538.14 652.8 538.27 650.2 538.40 652.2 538.53 650.7 538.66 652.6 538.79 651.0 538.92 652.3 539.05 652.8 539.18 653.2 539.31 652.4 539.44 654.3 539.57 654.4 539.70 656.1 539.83 655.9 539.96 654.3 540.09 656.4 540.22 657.5 540.35 657.0 540.48 657.0 540.61 656.9 540.74 658.1 540.87 658.9 541.00 661.4 541.13 663.4 541.26 666.4 541.39 666.9 541.52 667.5 541.65 666.1 541.78 666.6 541.91 666.7 542.04 665.2 542.17 664.3 542.30 664.7 542.43 664.2 542.56 663.4 542.69 663.6 542.82 663.0 542.95 662.9 543.08 661.1 543.21 662.2 543.34 662.9 543.47 661.8 543.60 664.1 543.73 663.2 543.86 662.5 543.99 663.0 544.12 663.6 544.25 664.0 544.38 664.6 544.51 665.3 544.64 665.3 544.77 665.6 544.90 665.5 545.03 665.2 545.16 666.4 545.29 666.4 545.42 668.1 545.55 666.3 545.68 669.0 545.81 665.8 545.94 666.8 546.07 666.2 546.20 664.8 546.33 664.1 546.46 664.6 546.59 662.6 546.72 662.5 546.85 661.9 546.98 661.6 547.11 659.5 547.24 660.6 547.37 658.8 547.50 658.9 547.63 656.4 547.76 657.5 547.89 655.9 548.02 655.8 548.15 654.5 548.28 656.1 548.41 655.9 548.54 654.9 548.67 658.6 548.80 656.7 548.93 658.0 549.06 658.0 549.19 658.2 549.32 658.7 549.45 660.1 549.58 660.6 549.71 661.0 549.84 659.7 549.97 661.8 550.10 660.6 550.23 663.8 550.36 662.9 550.49 663.8 550.62 663.3 550.75 662.8 550.88 661.5 551.01 662.7 551.14 660.4 551.27 660.8 551.40 658.8 551.53 658.6 551.66 657.8 551.79 657.3 551.92 656.8 552.05 657.4 552.18 657.2 552.31 655.3 552.44 656.0 552.57 655.1 552.70 656.6 552.83 654.7 552.96 655.8 553.09 655.3 553.22 655.0 553.35 653.3 553.48 655.9 553.61 654.3 553.74 654.7 553.87 654.7 554.00 653.0 554.13 652.8 554.26 654.6 554.39 654.6 554.52 652.3 554.65 652.6 554.78 653.2 554.91 652.1 555.04 653.0 555.17 652.3 555.30 651.6 555.43 651.9 555.56 650.8 555.69 652.0 555.82 650.2 555.95 651.6 556.08 652.3 556.21 648.8 556.34 651.2 556.47 648.5 556.60 649.4 556.73 650.7 556.86 650.1 556.99 649.7 557.12 649.3 557.25 649.1 557.38 649.2 557.51 648.6 557.64 648.4 557.77 647.6 557.90 649.9 558.03 648.4 558.16 649.8 558.29 648.8 558.42 648.5 558.55 647.2 558.68 647.7 558.81 647.9 558.94 647.7 559.07 647.4 559.20 645.8 559.33 647.2 559.46 647.2 559.59 646.9 559.72 647.0 559.85 645.9 559.98 646.4 560.11 648.1 560.24 646.1 560.37 646.3 560.50 646.0 560.63 646.5 560.76 646.1 560.89 648.0 561.02 645.5 561.15 647.4 561.28 646.0 561.41 646.8 561.54 648.5 561.67 646.4 561.80 646.5 561.93 644.2 562.06 646.2 562.19 646.3 562.32 646.6 562.45 646.8 562.58 645.7 562.71 645.8 562.84 647.2 562.97 646.4 563.10 646.7 563.23 647.2 563.36 646.8 563.49 646.9 563.62 645.9 563.75 646.8 563.88 645.4 564.01 648.2 564.14 646.2 564.27 648.2 564.40 646.5 564.53 646.8 564.66 648.0 564.79 647.3 564.92 647.6 565.05 647.6 565.18 648.0 565.31 647.9 565.44 648.2 565.57 647.7 565.70 649.4 565.83 649.2 565.96 651.2 566.09 652.1 566.22 652.3 566.35 650.2 566.48 651.2 566.61 651.7 566.74 651.0 566.87 653.7 567.00 653.3 567.13 653.4 567.26 654.9 567.39 654.2 567.52 653.9 567.65 654.7 567.78 654.4 567.91 655.0 568.04 653.4 568.17 654.5 568.30 653.6 568.43 653.2 568.56 653.0 568.69 652.9 568.82 651.4 568.95 653.0 569.08 652.1 569.21 653.3 569.34 651.7 569.47 652.2 569.60 651.1 569.73 650.8 569.86 649.7 569.99 650.0 570.12 649.6 570.25 648.0 570.38 649.7 570.51 649.4 570.64 650.2 570.77 650.8 570.90 649.7 571.03 650.9 571.16 650.9 571.29 650.5 571.42 649.7 571.55 650.0 571.68 651.2 571.81 651.2 571.94 650.8 572.07 648.6 572.20 648.2 572.33 651.3 572.46 650.5 572.59 651.0 572.72 650.4 572.85 649.5 572.98 649.9 573.11 649.3 573.24 650.3 573.37 649.6 573.50 648.0 573.63 648.0 573.76 649.2 573.89 648.9 574.02 648.2 574.15 648.1 574.28 646.6 574.41 646.7 574.54 647.6 574.67 645.5 574.80 647.2 574.93 647.1 575.06 647.0 575.19 646.9 575.32 647.6 575.45 646.1 575.58 645.0 575.71 644.1 575.84 643.4 575.97 645.2 576.10 645.6 576.23 643.3 576.36 644.6 576.49 643.7 576.62 643.9 576.75 644.1 576.88 643.8 577.01 642.5 577.14 644.0 577.27 643.0 577.40 641.4 577.53 643.4 577.66 644.0 577.79 642.4 577.92 644.2 578.05 641.6 578.18 642.7 578.31 644.1 578.44 644.2 578.57 643.6 578.70 644.1 578.83 642.9 578.96 643.9 579.09 644.2 579.22 644.3 579.35 643.8 579.48 644.3 579.61 644.0 579.74 644.2 579.87 642.5 580.00 644.4 580.13 643.5 580.26 644.4 580.39 645.1 580.52 645.7 580.65 644.9 580.78 645.9 580.91 647.0 581.04 646.8 581.17 647.6 581.30 648.2 581.43 648.6 581.56 648.4 581.69 649.4 581.82 650.1 581.95 649.1 582.08 651.1 582.21 650.1 582.34 651.6 582.47 652.2 582.60 652.2 582.73 650.6 582.86 650.6 582.99 650.2 583.12 651.3 583.25 650.8 583.38 649.0 583.51 650.8 583.64 651.0 583.77 649.4 583.90 649.6 584.03 649.6 584.16 648.4 584.29 648.7 584.42 649.3 584.55 648.3 584.68 648.4 584.81 648.3 584.94 649.4 585.07 648.0 585.20 647.9 585.33 647.0 585.46 648.2 585.59 647.0 585.72 646.7 585.85 647.5 585.98 647.3 586.11 645.1 586.24 645.4 586.37 646.4 586.50 644.7 586.63 646.1 586.76 644.4 586.89 645.9 587.02 643.2 587.15 642.2 587.28 642.3 587.41 644.9 587.54 642.4 587.67 642.3 587.80 642.0 587.93 641.6 588.06 642.0 588.19 641.8 588.32 640.8 588.45 640.7 588.58 642.0 588.71 641.4 588.84 641.2 588.97 641.1 589.10 639.6 589.23 640.3 589.36 640.7 589.49 638.3 589.62 639.9 589.75 636.3 589.88 636.8 590.01 637.3 590.14 637.8 590.27 638.0 590.40 638.5 590.53 639.7 590.66 638.5 590.79 639.0 590.92 638.3 591.05 638.2 591.18 639.5 591.31 639.1 591.44 640.7 591.57 640.1 591.70 638.6 591.83 640.3 591.96 638.2 592.09 638.5 592.22 637.5 592.35 637.2 592.48 637.0 592.61 636.0 592.74 636.0 592.87 635.9 593.00 636.4 593.13 635.9 593.26 636.4 593.39 633.0 593.52 633.7 593.65 635.0 593.78 632.9 593.91 633.6 594.04 634.4 594.17 635.0 594.30 634.1 594.43 633.8 594.56 633.2 594.69 633.9 594.82 633.3 594.95 633.5 595.08 632.5 595.21 632.9 595.34 632.1 595.47 631.8 595.60 632.0 595.73 631.9 595.86 632.0 595.99 632.0 596.12 631.1 596.25 632.6 596.38 632.6 596.51 633.6 596.64 629.9 596.77 630.5 596.90 630.7 597.03 630.5 597.16 631.1 597.29 630.0 597.42 629.8 597.55 630.9 597.68 629.8 597.81 628.3 597.94 630.4 598.07 631.3 598.20 630.0 598.33 628.6 598.46 629.7 598.59 628.1 598.72 627.6 598.85 627.9 598.98 628.7 599.11 627.3 599.24 626.6 599.37 625.4 599.50 626.6 599.63 625.1 599.76 626.1 599.89 625.2 600.02 626.0 600.15 626.3 600.28 626.9 600.41 626.8 600.54 629.3 600.67 629.2 600.80 628.5 600.93 628.2 601.06 630.5 601.19 629.6 601.32 630.7 601.45 631.4 601.58 630.4 601.71 631.5 601.84 631.9 601.97 631.4 602.10 632.0 602.23 631.3 602.36 628.5 602.49 630.9 602.62 632.5 602.75 631.7 602.88 633.0 603.01 630.3 603.14 630.7 603.27 629.1 603.40 628.7 603.53 628.3 603.66 629.2 603.79 629.2 603.92 626.5 604.05 628.6 604.18 628.5 604.31 628.1 604.44 625.9 604.57 627.0 604.70 626.9 604.83 625.0 604.96 624.9 605.09 627.8 605.22 624.8 605.35 624.7 605.48 623.1 605.61 624.0 605.74 625.7 605.87 624.8 606.00 624.0 606.13 625.2 606.26 625.9 606.39 626.5 606.52 625.4 606.65 627.1 606.78 626.5 606.91 627.0 607.04 627.1 607.17 627.5 607.30 629.1 607.43 627.4 607.56 629.5 607.69 632.2 607.82 629.3 607.95 630.2 608.08 630.8 608.21 632.7 608.34 630.1 608.47 631.5 608.60 630.4 608.73 631.9 608.86 629.5 608.99 631.1 609.12 627.9 609.25 628.7 609.38 626.9 609.51 627.0 609.64 625.9 609.77 626.3 609.90 627.7 610.03 625.3 610.16 627.7 610.29 626.5 610.42 624.8 610.55 624.1 610.68 624.0 610.81 624.0 610.94 626.5 611.07 627.3 611.20 626.6 611.33 629.7 611.46 631.5 611.59 631.1 611.72 630.9 611.85 630.3 611.98 629.4 612.11 630.4 612.24 630.4 612.37 628.4 612.50 629.0 612.63 626.9 612.76 628.7 612.89 626.3 613.02 626.8 613.15 627.2 613.28 625.5 613.41 625.6 613.54 626.1 613.67 624.2 613.80 624.7 613.93 625.0 614.06 623.8 614.19 622.4 614.32 622.4 614.45 622.1 614.58 622.0 614.71 622.2 614.84 619.7 614.97 621.0 615.10 621.3 615.23 622.6 615.36 619.8 615.49 620.4 615.62 622.2 615.75 621.3 615.88 622.5 616.01 621.4 616.14 620.9 616.27 621.5 616.40 622.8 616.53 622.4 616.66 621.9 616.79 621.9 616.92 622.9 617.05 622.5 617.18 622.2 617.31 622.7 617.44 622.0 617.57 620.4 617.70 621.9 617.83 621.7 617.96 621.5 618.09 619.6 618.22 618.1 618.35 619.2 618.48 617.8 618.61 616.1 618.74 617.7 618.87 616.3 619.00 616.7 619.13 615.7 619.26 616.6 619.39 616.6 619.52 616.4 619.65 617.3 619.78 615.8 619.91 618.9 620.04 615.0 620.17 617.7 620.30 618.1 620.43 616.9 620.56 617.6 620.69 616.5 620.82 617.5 620.95 618.4 621.08 617.0 621.21 616.6 621.34 618.6 621.47 619.1 621.60 620.0 621.73 621.8 621.86 621.7 621.99 625.0 622.12 626.1 622.25 626.1 622.38 625.5 622.51 625.4 622.64 624.8 622.77 623.6 622.90 623.2 623.03 623.6 623.16 621.8 623.29 621.5 623.42 621.1 623.55 620.0 623.68 620.6 623.81 618.6 623.94 620.1 624.07 619.4 624.20 618.1 624.33 618.9 624.46 619.0 624.59 617.5 624.72 617.7 624.85 617.1 624.98 617.2 625.11 617.1 625.24 617.5 625.37 617.8 625.50 619.4 625.63 617.5 625.76 618.0 625.89 616.8 626.02 618.5 626.15 616.9 626.28 616.6 626.41 616.4 626.54 616.6 626.67 616.1 626.80 616.6 626.93 618.0 627.06 616.3 627.19 615.4 627.32 614.6 627.45 616.7 627.58 616.2 627.71 616.8 627.84 618.0 627.97 618.6 628.10 619.1 628.23 620.1 628.36 618.4 628.49 619.1 628.62 619.1 628.75 618.7 628.88 618.8 629.01 618.4 629.14 619.6 629.27 617.7 629.40 620.6 629.53 616.2 629.66 618.7 629.79 616.1 629.92 616.9 630.05 616.0 630.18 616.9 630.31 617.1 630.44 616.0 630.57 615.5 630.70 614.9 630.83 614.8 630.96 614.5 631.09 614.4 631.22 615.0 631.35 615.7 631.48 614.0 631.61 612.6 631.74 614.1 631.87 615.1 632.00 613.2 632.13 614.4 632.26 612.8 632.39 612.5 632.52 613.9 632.65 611.7 632.78 613.0 632.91 610.6 633.04 612.1 633.17 613.4 633.30 612.4 633.43 612.0 633.56 613.2 633.69 611.6 633.82 611.2 633.95 611.8 634.08 612.1 634.21 612.2 634.34 611.8 634.47 613.1 634.60 612.4 634.73 611.6 634.86 614.0 634.99 610.0 635.12 611.7 635.25 610.6 635.38 613.5 635.51 611.6 635.64 612.0 635.77 611.5 635.90 612.5 636.03 610.4 636.16 611.8 636.29 609.0 636.42 611.3 636.55 612.0 636.68 612.1 636.81 612.3 636.94 610.2 637.07 612.6 637.20 612.6 637.33 614.8 637.46 614.3 637.59 614.8 637.72 615.9 637.85 615.5 637.98 614.1 638.11 615.0 638.24 614.2 638.37 617.8 638.50 616.9 638.63 615.4 638.76 616.7 638.89 615.4 639.02 615.1 639.15 616.3 639.28 612.6 639.41 612.8 639.54 613.7 639.67 613.2 639.80 614.2 639.93 612.3 640.06 612.7 640.19 613.5 640.32 610.0 640.45 609.7 640.58 610.3 640.71 610.8 640.84 609.8 640.97 611.1 641.10 610.0 641.23 611.8 641.36 611.1 641.49 611.2 641.62 610.6 641.75 610.6 641.88 608.6 642.01 610.0 642.14 608.3 642.27 611.4 642.40 608.8 642.53 608.9 642.66 609.3 642.79 612.0 642.92 608.6 643.05 612.1 643.18 611.3 643.31 614.4 643.44 612.2 643.57 612.6 643.70 613.8 643.83 614.0 643.96 614.5 644.09 616.6 644.22 616.1 644.35 618.1 644.48 618.5 644.61 619.5 644.74 620.8 644.87 620.2 645.00 617.5 645.13 618.9 645.26 614.4 645.39 617.3 645.52 616.5 645.65 613.5 645.78 615.0 645.91 611.1 646.04 613.3 646.17 611.1 646.30 610.4 646.43 609.8 646.56 608.6 646.69 609.2 646.82 607.7 646.95 607.5 647.08 607.4 647.21 606.8 647.34 606.0 647.47 607.5 647.60 607.6 647.73 605.3 647.86 607.4 647.99 607.5 648.12 606.2 648.25 607.4 648.38 603.4 648.51 607.0 648.64 604.6 648.77 605.5 648.90 604.1 649.03 607.5 649.16 604.3 649.29 605.2 649.42 602.8 649.55 603.9 649.68 604.5 649.81 603.7 649.94 602.9 650.07 605.1 650.20 601.7 650.33 605.3 650.46 607.0 650.59 608.7 650.72 611.2 650.85 609.8 650.98 608.4 651.11 608.3 651.24 606.6 651.37 606.3 651.50 606.2 651.63 604.1 651.76 603.6 651.89 603.2 652.02 605.5 652.15 605.3 652.28 605.1 652.41 605.2 652.54 604.3 652.67 605.5 652.80 606.0 652.93 604.7 653.06 605.2 653.19 606.4 653.32 608.8 653.45 607.4 653.58 605.8 653.71 608.9 653.84 608.8 653.97 608.9 654.10 607.8 654.23 608.6 654.36 611.2 654.49 610.4 654.62 614.2 654.75 607.6 654.88 607.3 655.01 608.0 655.14 607.0 655.27 606.8 655.40 607.7 655.53 607.8 655.66 604.5 655.79 606.0 655.92 605.8 656.05 604.7 656.18 605.4 656.31 604.7 656.44 602.1 656.57 602.6 656.70 602.2 656.83 600.1 656.96 600.7 657.09 601.5 657.22 601.2 657.35 601.2 657.48 604.4 657.61 602.7 657.74 603.5 657.87 602.0 658.00 604.6 658.13 603.3 658.26 604.0 658.39 604.1 658.52 603.7 658.65 605.8 658.78 603.8 658.91 605.9 659.04 604.1 659.17 606.2 659.30 605.1 659.43 605.8 659.56 603.3 659.69 605.0 659.82 605.1 659.95 604.5 660.08 603.9 660.21 603.3 660.34 600.4 660.47 604.3 660.60 602.3 660.73 602.4 660.86 603.8 660.99 600.5 661.12 602.4 661.25 603.8 661.38 603.0 661.51 602.6 661.64 601.9 661.77 602.7 661.90 600.7 662.03 601.6 662.16 603.0 662.29 600.9 662.42 601.6 662.55 601.2 662.68 600.1 662.81 599.2 662.94 600.2 663.07 600.2 663.20 599.7 663.33 600.6 663.46 600.9 663.59 601.1 663.72 600.6 663.85 598.8 663.98 601.4 664.11 600.5 664.24 601.2 664.37 599.3 664.50 602.1 664.63 603.7 664.76 602.0 664.89 603.0 665.02 601.4 665.15 602.5 665.28 602.5 665.41 603.6 665.54 603.3 665.67 603.7 665.80 602.7 665.93 602.6 666.06 603.8 666.19 606.4 666.32 602.5 666.45 604.1 666.58 604.9 666.71 602.7 666.84 601.5 666.97 603.6 667.10 603.0 667.23 602.1 667.36 604.5 667.49 603.6 667.62 602.7 667.75 601.2 667.88 603.9 668.01 603.7 668.14 603.3 668.27 604.1 668.40 601.1 668.53 601.1 668.66 603.0 668.79 602.5 668.92 601.9 669.05 601.7 669.18 603.6 669.31 603.1 669.44 604.0 669.57 602.1 669.70 603.7 669.83 604.4 669.96 605.3 670.09 602.7 670.22 604.6 670.35 604.4 670.48 605.4 670.61 605.5 670.74 606.4 670.87 607.1 671.00 606.8 671.13 606.7 671.26 608.0 671.39 608.9 671.52 607.7 671.65 607.1 671.78 610.1 671.91 610.9 672.04 614.2 672.17 613.5 672.30 615.5 672.43 617.7 672.56 619.8 672.69 620.4 672.82 624.2 672.95 621.4 673.08 619.7 673.21 621.7 673.34 620.2 673.47 620.9 673.60 619.0 673.73 618.3 673.86 617.0 673.99 617.3 674.12 617.7 674.25 619.5 674.38 617.5 674.51 615.7 674.64 617.1 674.77 615.5 674.90 613.5 675.03 614.0 675.16 614.6 675.29 615.9 675.42 616.9 675.55 616.6 675.68 617.1 675.81 617.0 675.94 618.5 676.07 619.5 676.20 618.0 676.33 620.7 676.46 619.0 676.59 619.9 676.72 622.0 676.85 619.9 676.98 618.3 677.11 615.3 677.24 616.2 677.37 614.7 677.50 613.8 677.63 614.1 677.76 611.3 677.89 612.7 678.02 609.9 678.15 608.9 678.28 607.4 678.41 606.8 678.54 607.1 678.67 604.8 678.80 603.2 678.93 603.5 679.06 605.6 679.19 604.9 679.32 603.4 679.45 604.2 679.58 604.4 679.71 604.9 679.84 603.3 679.97 604.4 680.10 602.9 680.23 603.5 680.36 604.1 680.49 605.8 680.62 604.2 680.75 606.2 680.88 604.9 681.01 606.0 681.14 604.6 681.27 602.9 681.40 602.7 681.53 604.7 681.66 607.2 681.79 605.3 681.92 605.0 682.05 606.4 682.18 605.4 682.31 605.6 682.44 606.3 682.57 606.7 682.70 605.7 682.83 605.6 682.96 608.3 683.09 605.8 683.22 605.9 683.35 606.8 683.48 607.0 683.61 607.6 683.74 609.1 683.87 609.0 684.00 607.7 684.13 608.1 684.26 609.9 684.39 609.7 684.52 610.9 684.65 610.4 684.78 612.9 684.91 613.3 685.04 612.8 685.17 615.4 685.30 618.3 685.43 617.3 685.56 617.0 685.69 619.6 685.82 618.9 685.95 619.1 686.08 620.7 686.21 620.4 686.34 621.8 686.47 619.3 686.60 619.9 686.73 620.6 686.86 621.1 686.99 620.1 687.12 621.8 687.25 620.5 687.38 621.6 687.51 622.2 687.64 622.9 687.77 623.3 687.90 622.6 688.03 623.7 688.16 622.9 688.29 621.8 688.42 621.2 688.55 619.9 688.68 621.5 688.81 620.3 688.94 618.5 689.07 618.8 689.20 615.9 689.33 615.5 689.46 615.0 689.59 615.2 689.72 614.0 689.85 612.9 689.98 611.8 690.11 611.7 690.24 613.4 690.37 612.4 690.50 610.0 690.63 612.9 690.76 610.0 690.89 609.5 691.02 609.4 691.15 609.1 691.28 608.2 691.41 608.1 691.54 608.4 691.67 608.1 691.80 605.9 691.93 606.1 692.06 605.2 692.19 605.4 692.32 605.5 692.45 605.1 692.58 605.9 692.71 604.0 692.84 605.3 692.97 605.4 693.10 604.1 693.23 603.9 693.36 604.7 693.49 603.4 693.62 603.3 693.75 603.6 693.88 600.5 694.01 603.8 694.14 603.1 694.27 603.2 694.40 600.9 694.53 602.2 694.66 603.4 694.79 603.8 694.92 602.8 695.05 603.2 695.18 605.7 695.31 604.5 695.44 605.9 695.57 603.3 695.70 605.5 695.83 604.7 695.96 605.0 696.09 607.2 696.22 605.0 696.35 605.4 696.48 605.9 696.61 606.7 696.74 607.2 696.87 607.6 697.00 608.2 697.13 607.1 697.26 608.1 697.39 607.1 697.52 606.3 697.65 605.2 697.78 606.6 697.91 604.5 698.04 605.6 698.17 604.2 698.30 603.3 698.43 605.0 698.56 605.5 698.69 605.5 698.82 606.7 698.95 606.1 699.08 605.6 699.21 606.9 699.34 609.2 699.47 606.6 699.60 606.1 699.73 608.4 699.86 607.7 699.99 610.6 700.12 609.8 700.25 608.9 700.38 609.5 700.51 607.4 700.64 608.2 700.77 607.7 700.90 607.1 701.03 605.8 701.16 603.5 701.29 604.0 701.42 602.1 701.55 598.8 701.68 601.2 701.81 597.3 701.94 597.6 702.07 596.3 702.20 597.2 702.33 595.4 702.46 596.5 702.59 596.9 702.72 596.4 702.85 597.3 702.98 598.8 703.11 597.3 703.24 598.2 703.37 599.0 703.50 596.6 703.63 599.3 703.76 597.2 703.89 597.1 704.02 597.6 704.15 598.8 704.28 595.5 704.41 598.4 704.54 596.7 704.67 597.6 704.80 596.2 704.93 594.4 705.06 599.4 705.19 599.0 705.32 596.7 705.45 597.0 705.58 596.7 705.71 598.4 705.84 601.3 705.97 598.5 706.10 596.6 706.23 599.9 706.36 597.9 706.49 597.1 706.62 599.8 706.75 599.4 706.88 599.7 707.01 600.5 707.14 600.8 707.27 596.9 707.40 599.9 707.53 601.3 707.66 601.4 707.79 598.5 707.92 597.5 708.05 598.5 708.18 600.5 708.31 599.8 708.44 601.2 708.57 599.9 708.70 598.6 708.83 598.8 708.96 600.0 709.09 601.5 709.22 602.4 709.35 599.3 709.48 601.3 709.61 600.7 709.74 599.4 709.87 599.5 710.00 603.2 710.13 600.7 710.26 601.3 710.39 602.1 710.52 602.1 710.65 602.6 710.78 600.8 710.91 601.4 711.04 602.4 711.17 602.6 711.30 601.3 711.43 600.2 711.56 603.6 711.69 603.7 711.82 603.0 711.95 600.8 712.08 597.7 712.21 598.7 712.34 601.1 712.47 597.9 712.60 597.0 712.73 593.6 712.86 594.1 712.99 595.7 713.12 594.4 713.25 593.3 713.38 594.7 713.51 593.5 713.64 592.8 713.77 591.4 713.90 591.7 714.03 592.1 714.16 590.6 714.29 588.0 714.42 589.0 714.55 588.4 714.68 588.9 714.81 589.6 714.94 587.3 715.07 586.3 715.20 587.5 715.33 586.8 715.46 585.0 715.59 586.8 715.72 586.4 715.85 586.6 715.98 583.9 716.11 583.3 716.24 584.0 716.37 583.7 716.50 587.5 716.63 587.5 716.76 584.3 716.89 588.2 717.02 584.5 717.15 585.0 717.28 589.2 717.41 584.3 717.54 587.1 717.67 587.3 717.80 587.7 717.93 587.0 718.06 586.5 718.19 588.3 718.32 586.0 718.45 586.2 718.58 586.7 718.71 585.6 718.84 585.9 718.97 587.8 719.10 588.4 719.23 587.0 719.36 585.9 719.49 585.4 719.62 585.5 719.75 584.9 719.88 584.2 720.01 584.2 720.14 583.4 720.27 584.7 720.40 580.5 720.53 581.4 720.66 582.6 720.79 580.2 720.92 579.6 721.05 580.5 721.18 579.0 721.31 577.1 721.44 578.2 721.57 578.3 721.70 574.3 721.83 577.6 721.96 573.1 722.09 576.1 722.22 573.2 722.35 575.7 722.48 575.4 722.61 577.2 722.74 575.7 722.87 575.3 723.00 575.0 723.13 576.6 723.26 576.0 723.39 577.9 723.52 577.3 723.65 578.7 723.78 578.1 723.91 577.4 724.04 577.2 724.17 578.4 724.30 578.8 724.43 575.8 724.56 578.5 724.69 577.6 724.82 578.7 724.95 579.6 725.08 575.7 725.21 578.6 725.34 580.3 725.47 576.4 725.60 579.5 725.73 579.3 725.86 578.6 725.99 580.9 726.12 581.0 726.25 579.9 726.38 582.0 726.51 582.2 726.64 580.5 726.77 581.6 726.90 581.8 727.03 583.1 727.16 581.4 727.29 580.9 727.42 579.8 727.55 580.4 727.68 581.3 727.81 578.6 727.94 578.2 728.07 576.6 728.20 581.6 728.33 576.9 728.46 576.4 728.59 576.0 728.72 578.3 728.85 576.8 728.98 573.1 729.11 576.1 729.24 578.5 729.37 575.5 729.50 575.6 729.63 579.6 729.76 574.7 729.89 574.6 730.02 575.7 730.15 578.2 730.28 575.0 730.41 571.7 730.54 573.8 730.67 573.5 730.80 574.8 730.93 572.9 731.06 573.5 731.19 571.2 731.32 571.0 731.45 572.9 731.58 575.1 731.71 570.9 731.84 569.8 731.97 573.9 732.10 572.5 732.23 572.9 732.36 571.3 732.49 571.7 732.62 571.1 732.75 571.0 732.88 573.6 733.01 570.1 733.14 569.9 733.27 570.4 733.40 569.9 733.53 572.6 733.66 569.6 733.79 570.3 733.92 567.6 734.05 570.2 734.18 570.1 734.31 570.0 734.44 566.3 734.57 567.7 734.70 564.3 734.83 570.9 734.96 567.9 735.09 570.5 735.22 570.8 735.35 569.2 735.48 566.4 735.61 566.9 735.74 568.3 735.87 563.8 736.00 568.9 736.13 568.9 736.26 567.9 736.39 566.1 736.52 567.2 736.65 564.2 736.78 565.3 736.91 566.2 737.04 565.8 737.17 569.7 737.30 567.9 737.43 563.4 737.56 569.1 737.69 568.2 737.82 567.1 737.95 566.4 738.08 570.9 738.21 568.1 738.34 568.2 738.47 565.3 738.60 567.0 738.73 569.4 738.86 568.3 738.99 567.5 739.12 567.8 739.25 565.8 739.38 564.3 739.51 568.7 739.64 565.3 739.77 564.8 739.90 567.5 740.03 568.6 740.16 565.7 740.29 568.4 740.42 565.9 740.55 559.1 740.68 568.6 740.81 562.7 740.94 567.9 741.07 563.8 741.20 563.9 741.33 562.8 741.46 561.4 741.59 564.4 741.72 566.4 741.85 565.3 741.98 561.1 742.11 563.1 742.24 563.9 742.37 562.5 742.50 558.0 742.63 564.6 742.76 558.1 742.89 557.3 743.02 558.9 743.15 558.5 743.28 556.3 743.41 554.1 743.54 553.8 743.67 555.9 743.80 551.2 743.93 557.3 744.06 555.7 744.19 554.2 744.32 554.1 744.45 551.7 744.58 552.3 744.71 555.5 744.84 552.4 744.97 556.9 745.10 555.6 745.23 554.9 745.36 552.8 745.49 551.3 745.62 552.9 745.75 551.1 745.88 552.4 746.01 552.4 746.14 551.9 746.27 555.6 746.40 551.1 746.53 551.3 746.66 555.3 746.79 552.8 746.92 552.9 747.05 549.9 747.18 551.5 747.31 553.2 747.44 549.9 747.57 550.3 747.70 551.6 747.83 549.7 747.96 550.7 748.09 544.7 748.22 542.9 748.35 543.9 748.48 546.9 748.61 543.9 748.74 540.4 748.87 548.6 749.00 547.0 749.13 542.3 749.26 541.5 749.39 540.9 749.52 543.7 749.65 542.6 749.78 541.2 749.91 543.2 750.04 537.2 750.17 535.4 750.30 537.4 750.43 536.4 750.56 535.9 750.69 535.8 750.82 530.2 750.95 536.9 751.08 527.8 751.21 532.1 751.34 531.3 751.47 531.6 751.60 529.3 751.73 525.8 751.86 526.5 751.99 522.7 752.12 525.6 752.25 530.0 752.38 530.5 752.51 544.6 752.64 542.5 752.77 549.6 752.90 551.5 753.03 547.4 753.16 545.5 753.29 542.8 753.42 542.6 753.55 541.5 753.68 541.8 753.81 542.9 753.94 540.4 754.07 542.4 754.20 538.8 754.33 537.3 754.46 528.4 754.59 534.3 754.72 536.0 754.85 532.8 754.98 537.1 755.11 536.5 755.24 538.6 755.37 540.0 755.50 540.3 755.63 541.8 755.76 543.6 755.89 544.5 756.02 543.1 756.15 547.7 756.28 546.6 756.41 548.3 756.54 552.3 756.67 553.0 756.80 555.1 756.93 550.6 757.06 553.0 757.19 552.9 757.32 551.3 757.45 550.0 757.58 551.5 757.71 551.4 757.84 553.0 757.97 546.1 758.10 547.6 758.23 544.1 758.36 544.5 758.49 538.9 758.62 548.5 758.75 539.1 758.88 542.3 759.01 537.9 759.14 541.3 759.27 539.8 759.40 537.4 759.53 539.8 759.66 541.8 759.79 542.1 759.92 538.0 760.05 544.0 760.18 541.9 760.31 540.0 760.44 546.2 760.57 541.2 760.70 543.4 760.83 546.4 760.96 543.1 761.09 542.8 761.22 545.3 761.35 542.0 761.48 542.9 761.61 542.0 761.74 541.2 761.87 543.5 762.00 542.1 762.13 544.4 762.26 541.7 762.39 537.2 762.52 541.1 762.65 539.2 762.78 538.9 762.91 541.5 763.04 539.9 763.17 534.8 763.30 543.0 763.43 537.6 763.56 533.8 763.69 536.5 763.82 538.3 763.95 535.0 764.08 536.1 764.21 534.4 764.34 539.8 764.47 538.4 764.60 543.7 764.73 541.3 764.86 541.8 764.99 540.3 765.12 544.5 765.25 539.6 765.38 543.9 765.51 544.9 765.64 542.5 765.77 542.0 765.90 547.9 766.03 549.9 766.16 547.2 766.29 551.0 766.42 547.3 766.55 545.2 766.68 544.1 766.81 541.6 766.94 545.9 767.07 541.8 767.20 541.0 767.33 542.7 767.46 542.4 767.59 538.9 767.72 540.5 767.85 539.0 767.98 539.0 768.11 537.8 768.24 536.5 768.37 531.1 768.50 534.8 768.63 538.4 768.76 534.3 768.89 535.2 769.02 535.9 769.15 531.8 769.28 534.0 769.41 532.9 769.54 534.1 769.67 534.4 769.80 532.8 769.93 531.8 770.06 534.3 770.19 532.0 770.32 527.8 770.45 534.1 770.58 531.9 770.71 529.0 770.84 530.0 770.97 527.5 771.10 529.8 771.23 525.6 771.36 531.3 771.49 529.7 771.62 525.8 771.75 529.2 771.88 524.1 772.01 526.0 772.14 524.5 772.27 528.4 772.40 528.1 772.53 522.7 772.66 526.2 772.79 526.7 772.92 524.3 773.05 530.9 773.18 520.6 773.31 527.5 773.44 527.7 773.57 522.7 773.70 521.9 773.83 529.3 773.96 521.8 774.09 529.4 774.22 527.6 774.35 532.7 774.48 532.9 774.61 532.8 774.74 538.8 774.87 540.7 775.00 534.3 775.13 538.6 775.26 536.9 775.39 534.6 775.52 534.5 775.65 536.6 775.78 537.5 775.91 533.7 776.04 528.0 776.17 535.4 776.30 534.0 776.43 527.9 776.56 530.9 776.69 531.7 776.82 530.5 776.95 531.5 777.08 528.2 777.21 531.5 777.34 523.2 777.47 531.7 777.60 530.4 777.73 532.5 777.86 535.4 777.99 538.0 778.12 533.3 778.25 536.5 778.38 535.3 778.51 538.8 778.64 538.3 778.77 537.8 778.90 544.2 779.03 543.4 779.16 542.6 779.29 544.7 779.42 536.8 779.55 540.6 779.68 542.5 779.81 536.9 779.94 534.7 780.07 533.9 780.20 537.7 780.33 536.4 780.46 535.8 780.59 541.1 780.72 541.2 780.85 545.8 780.98 552.3 781.11 552.3 781.24 558.7 781.37 562.0 781.50 564.2 781.63 569.0 781.76 564.6 781.89 564.6 782.02 560.5 782.15 560.6 782.28 560.1 782.41 561.4 782.54 559.3 782.67 555.2 782.80 556.1 782.93 560.2 783.06 554.1 783.19 553.5 783.32 546.6 783.45 548.9 783.58 551.2 783.71 544.1 783.84 543.9 783.97 543.0 784.10 543.6 784.23 544.8 784.36 538.8 784.49 543.9 784.62 535.6 784.75 539.1 784.88 541.6 785.01 537.4 785.14 537.6 785.27 537.8 785.40 542.3 785.53 535.6 785.66 539.7 785.79 541.6 785.92 535.4 786.05 533.8 786.18 535.2 786.31 532.3 786.44 533.3 786.57 531.0 786.70 529.5 786.83 528.6 786.96 534.2 787.09 529.8 787.22 528.7 787.35 534.3 787.48 531.4 787.61 531.2 787.74 530.3 787.87 532.3 788.00 531.7 788.13 531.6 788.26 532.3 788.39 534.8 788.52 532.6 788.65 536.4 788.78 535.8 788.91 531.1 789.04 531.4 789.17 530.7 789.30 532.2 789.43 535.9 789.56 533.5 789.69 532.9 789.82 533.9 789.95 528.0 790.08 533.7 790.21 532.0 790.34 533.7 790.47 531.0 790.60 533.7 790.73 533.5 790.86 529.8 790.99 531.5 791.12 527.5 791.25 527.5 791.38 526.2 791.51 528.0 791.64 525.1 791.77 525.0 791.90 526.7 792.03 523.2 792.16 528.0 792.29 523.8 792.42 525.1 792.55 524.5 792.68 528.1 792.81 527.7 792.94 526.3 793.07 526.1 793.20 530.4 793.33 528.6 793.46 527.0 793.59 530.6 793.72 532.5 793.85 531.5 793.98 532.4 794.11 536.5 794.24 532.3 794.37 536.1 794.50 538.7 794.63 539.7 794.76 533.5 794.89 538.2 795.02 538.0 795.15 544.0 795.28 542.0 795.41 542.0 795.54 543.1 795.67 542.3 795.80 537.9 795.93 544.6 796.06 534.3 796.19 539.2 796.32 538.2 796.45 535.7 796.58 536.7 796.71 533.2 796.84 534.2 796.97 531.8 797.10 528.4 797.23 531.6 797.36 526.8 797.49 528.7 797.62 524.0 797.75 526.7 797.88 527.0 798.01 528.1 798.14 522.0 798.27 522.8 798.40 523.7 798.53 520.7 798.66 524.3 798.79 528.3 798.92 523.6 799.05 522.9 799.18 518.7 799.31 521.8 799.44 521.3 799.57 524.5 799.70 518.1 799.83 521.7 799.96 517.1 800.09 517.9 800.22 518.3 800.35 520.5 800.48 517.7 800.61 520.7 800.74 525.1 800.87 519.4 801.00 525.4 801.13 525.9 801.26 524.4 801.39 524.4 801.52 528.9 801.65 526.8 801.78 528.8 801.91 528.5 802.04 527.6 802.17 532.4 802.30 532.5 802.43 530.2 802.56 534.8 802.69 531.1 802.82 531.6 802.95 535.1 803.08 532.2 803.21 532.5 803.34 534.9 803.47 529.4 803.60 532.1 803.73 529.6 803.86 530.0 803.99 528.9 804.12 527.3 804.25 528.4 804.38 526.0 804.51 527.3 804.64 524.9 804.77 525.7 804.90 526.0 805.03 522.5 805.16 524.5 805.29 525.5 805.42 523.9 805.55 524.9 805.68 520.6 805.81 523.2 805.94 522.2 806.07 515.6 806.20 520.5 806.33 521.8 806.46 519.8 806.59 519.8 806.72 519.3 806.85 519.1 806.98 517.2 807.11 517.8 807.24 514.6 807.37 522.9 807.50 518.6 807.63 518.9 807.76 519.6 807.89 519.2 808.02 517.9 808.15 514.7 808.28 515.3 808.41 520.9 808.54 518.2 808.67 518.6 808.80 515.0 808.93 516.0 809.06 517.3 809.19 515.1 809.32 518.8 809.45 514.8 809.58 515.3 809.71 513.7 809.84 516.5 809.97 518.3 810.10 515.9 810.23 515.3 810.36 514.5 810.49 516.6 810.62 514.9 810.75 518.3 810.88 514.0 811.01 513.7 811.14 513.2 811.27 510.2 811.40 514.4 811.53 514.0 811.66 510.4 811.79 511.1 811.92 511.1 812.05 512.5 812.18 510.8 812.31 514.1 812.44 514.7 812.57 510.7 812.70 511.7 812.83 509.2 812.96 513.8 813.09 508.5 813.22 508.8 813.35 510.2 813.48 508.2 813.61 515.0 813.74 508.8 813.87 508.4 814.00 506.6 814.13 508.1 814.26 506.7 814.39 506.8 814.52 509.5 814.65 505.9 814.78 507.6 814.91 505.2 815.04 511.2 815.17 501.7 815.30 500.3 815.43 503.8 815.56 511.3 815.69 502.4 815.82 499.6 815.95 503.1 816.08 499.8 816.21 504.6 816.34 499.4 816.47 504.3 816.60 507.0 816.73 504.6 816.86 509.6 816.99 503.0 817.12 510.8 817.25 507.5 817.38 499.0 817.51 504.3 817.64 496.0 817.77 498.5 817.90 498.8 818.03 495.1 818.16 502.0 818.29 501.0 818.42 513.0 818.55 507.7 818.68 503.5 818.81 502.4 818.94 504.2 819.07 504.6 819.20 506.7 819.33 513.3 819.46 509.3 819.59 517.3 819.72 524.0 819.85 521.6 819.98 521.8 820.11 527.6 820.24 536.7 820.37 532.0 820.50 545.3 820.63 533.6 820.76 540.3 820.89 549.3 821.02 555.2 821.15 551.3 821.28 548.1 821.41 556.6 821.54 557.4 821.67 563.1 821.80 569.0 821.93 572.9 822.06 579.7 822.19 585.1 822.32 588.2 822.45 587.8 822.58 598.0 822.71 588.6 822.84 595.1 822.97 591.0 823.10 586.8 823.23 595.1 823.36 591.2 823.49 587.7 823.62 581.3 823.75 576.3 823.88 577.4 824.01 579.5 824.14 570.5 824.27 567.9 824.40 563.7 824.53 563.4 824.66 564.7 824.79 555.1 824.92 560.8 825.05 555.3 825.18 563.5 825.31 554.4 825.44 558.3 825.57 548.1 825.70 562.0 825.83 551.5 825.96 550.2 826.09 556.3 826.22 550.0 826.35 543.4 826.48 550.7 826.61 549.9 826.74 546.8 826.87 544.3 827.00 538.6 827.13 552.4 827.26 542.5 827.39 545.4 827.52 541.1 827.65 539.5 827.78 543.3 827.91 537.5 828.04 545.0 828.17 533.1 828.30 542.3 828.43 544.3 828.56 536.5 828.69 539.1 828.82 541.5 828.95 535.4 829.08 535.9 829.21 535.7 829.34 548.6 829.47 532.0 829.60 534.6 829.73 532.9 829.86 532.1 829.99 529.9 830.12 530.8 830.25 534.1 830.38 538.4 830.51 540.1 830.64 526.3 830.77 527.3 830.90 531.3 831.03 526.5 831.16 527.0 831.29 529.2 831.42 527.2 831.55 525.5 831.68 530.1 831.81 525.0 831.94 527.0 832.07 528.6 832.20 528.9 832.33 527.6 832.46 528.8 832.59 526.7 832.72 523.2 832.85 528.4 832.98 530.6 833.11 526.3 833.24 527.1 833.37 525.3 833.50 521.6 833.63 522.9 833.76 519.5 833.89 519.0 834.02 520.4 834.15 518.7 834.28 516.5 834.41 514.2 834.54 517.8 834.67 515.4 834.80 514.9 834.93 512.1 835.06 511.5 835.19 512.2 835.32 507.8 835.45 513.2 835.58 510.0 835.71 511.4 835.84 510.3 835.97 506.5 836.10 507.9 836.23 503.8 836.36 503.4 836.49 507.3 836.62 502.8 836.75 503.1 836.88 506.4 837.01 506.3 837.14 509.0 837.27 505.1 837.40 508.0 837.53 507.1 837.66 510.1 837.79 510.2 837.92 509.6 838.05 508.8 838.18 510.3 838.31 515.7 838.44 513.8 838.57 513.2 838.70 516.4 838.83 514.6 838.96 519.4 839.09 519.8 839.22 518.6 839.35 517.8 839.48 515.7 839.61 520.6 839.74 524.0 839.87 520.9 840.00 519.8 840.13 522.8 840.26 520.9 840.39 519.7 840.52 522.3 840.65 524.0 840.78 519.8 840.91 525.6 841.04 527.2 841.17 524.4 841.30 523.9 841.43 520.5 841.56 522.7 841.69 519.6 841.82 520.9 841.95 520.0 842.08 517.8 842.21 514.1 842.34 508.5 842.47 513.3 842.60 508.0 842.73 506.5 842.86 508.1 842.99 505.3 843.12 500.5 843.25 500.4 843.38 498.9 843.51 497.6 843.64 494.3 843.77 499.7 843.90 496.1 844.03 497.6 844.16 498.2 844.29 500.4 844.42 497.1 844.55 493.8 844.68 494.2 844.81 496.8 844.94 498.2 845.07 491.4 845.20 498.4 845.33 492.9 845.46 493.5 845.59 492.7 845.72 494.7 845.85 492.8 845.98 492.9 846.11 490.8 846.24 495.8 846.37 493.2 846.50 492.1 846.63 496.6 846.76 493.2 846.89 494.6 847.02 490.8 847.15 491.5 847.28 490.6 847.41 492.6 847.54 491.2 847.67 486.6 847.80 491.4 847.93 489.4 848.06 490.3 848.19 491.6 848.32 488.7 848.45 490.5 848.58 488.9 848.71 488.5 848.84 487.3 848.97 488.0 849.10 487.4 849.23 489.6 849.36 482.6 849.49 488.5 849.62 486.7 849.75 484.1 849.88 487.7 850.01 485.5 850.14 486.3 850.27 487.6 850.40 484.7 850.53 480.2 850.66 479.8 850.79 482.8 850.92 479.8 851.05 486.9 851.18 481.4 851.31 477.1 851.44 475.9 851.57 479.1 851.70 474.4 851.83 480.5 851.96 473.8 852.09 480.6 852.22 477.0 852.35 480.3 852.48 474.6 852.61 475.8 852.74 478.9 852.87 472.3 853.00 477.0 853.13 478.2 853.26 472.0 853.39 473.3 853.52 477.0 853.65 476.0 853.78 475.7 853.91 471.1 854.04 469.9 854.17 469.8 854.30 468.8 854.43 471.0 854.56 470.5 854.69 469.1 854.82 465.7 854.95 468.6 855.08 467.4 855.21 466.2 855.34 468.0 855.47 463.6 855.60 464.2 855.73 465.9 855.86 460.9 855.99 464.3 856.12 463.4 856.25 464.6 856.38 463.6 856.51 458.4 856.64 463.6 856.77 457.6 856.90 455.2 857.03 456.8 857.16 456.1 857.29 454.2 857.42 458.2 857.55 456.5 857.68 456.5 857.81 451.5 857.94 459.3 858.07 455.9 858.20 457.6 858.33 455.5 858.46 455.5 858.59 456.4 858.72 454.8 858.85 457.8 858.98 453.0 859.11 449.2 859.24 453.3 859.37 454.1 859.50 455.0 859.63 454.2 859.76 455.0 859.89 454.9 860.02 453.4 860.15 454.9 860.28 454.9 860.41 451.9 860.54 449.6 860.67 453.9 860.80 454.5 860.93 455.7 861.06 455.7 861.19 453.8 861.32 455.7 861.45 451.8 861.58 451.9 861.71 455.9 861.84 450.2 861.97 452.7 862.10 450.4 862.23 450.0 862.36 457.3 862.49 448.4 862.62 456.1 862.75 451.0 862.88 450.1 863.01 447.9 863.14 451.9 863.27 452.7 863.40 452.4 863.53 448.9 863.66 454.4 863.79 451.0 863.92 451.5 864.05 451.5 864.18 451.3 864.31 449.1 864.44 450.4 864.57 447.8 864.70 449.9 864.83 446.9 864.96 445.7 865.09 447.4 865.22 448.2 865.35 446.8 865.48 447.5 865.61 446.8 865.74 447.9 865.87 451.6 866.00 448.8 866.13 449.2 866.26 449.4 866.39 448.9 866.52 447.7 866.65 448.5 866.78 448.8 866.91 445.8 867.04 445.4 867.17 445.8 867.30 445.5 867.43 446.5 867.56 444.3 867.69 444.2 867.82 445.5 867.95 445.9 868.08 444.3 868.21 441.6 868.34 444.9 868.47 447.9 868.60 446.0 868.73 449.9 868.86 446.4 868.99 447.5 869.12 450.4 869.25 451.7 869.38 449.0 869.51 453.4 869.64 451.1 869.77 452.1 869.90 455.7 870.03 454.1 870.16 452.3 870.29 453.2 870.42 451.8 870.55 456.8 870.68 455.6 870.81 459.5 870.94 458.6 871.07 456.5 871.20 455.6 871.33 456.8 871.46 460.7 871.59 458.2 871.72 460.3 871.85 459.7 871.98 459.5 872.11 456.0 872.24 456.3 872.37 451.1 872.50 453.9 872.63 452.4 872.76 453.7 872.89 446.9 873.02 449.3 873.15 454.4 873.28 448.8 873.41 446.6 873.54 447.1 873.67 445.8 873.80 444.6 873.93 445.9 874.06 444.4 874.19 445.6 874.32 448.0 874.45 443.1 874.58 441.5 874.71 443.3 874.84 435.9 874.97 442.5 875.10 434.9 875.23 437.6 875.36 439.9 875.49 437.9 875.62 440.6 875.75 443.5 875.88 445.2 876.01 442.3 876.14 439.8 876.27 449.1 876.40 445.0 876.53 450.6 876.66 452.0 876.79 453.9 876.92 452.0 877.05 453.0 877.18 462.2 877.31 456.4 877.44 454.9 877.57 453.4 877.70 454.8 877.83 458.2 877.96 455.2 878.09 450.8 878.22 448.8 878.35 449.7 878.48 450.1 878.61 449.9 878.74 449.5 878.87 450.1 879.00 443.7 879.13 442.4 879.26 444.8 879.39 445.4 879.52 442.0 879.65 443.0 879.78 441.3 879.91 443.3 880.04 439.3 880.17 437.8 880.30 439.2 880.43 439.5 880.56 434.8 880.69 435.2 880.82 432.9 880.95 431.8 881.08 441.1 881.21 435.0 881.34 436.6 881.47 437.5 881.60 437.4 881.73 439.9 881.86 441.0 881.99 443.0 882.12 441.9 882.25 440.9 882.38 444.8 882.51 447.6 882.64 449.9 882.77 447.8 882.90 448.3 883.03 448.2 883.16 454.2 883.29 450.5 883.42 451.7 883.55 453.7 883.68 454.2 883.81 455.9 883.94 457.6 884.07 461.3 884.20 459.7 884.33 460.5 884.46 457.4 884.59 466.3 884.72 463.6 884.85 465.4 884.98 463.7 885.11 465.2 885.24 465.6 885.37 467.0 885.50 467.5 885.63 470.5 885.76 470.3 885.89 467.2 886.02 465.9 886.15 467.5 886.28 464.5 886.41 465.4 886.54 462.0 886.67 465.6 886.80 460.9 886.93 462.3 887.06 464.0 887.19 460.4 887.32 458.2 887.45 459.6 887.58 460.5 887.71 451.6 887.84 454.8 887.97 454.5 888.10 456.0 888.23 450.0 888.36 454.3 888.49 451.9 888.62 452.2 888.75 447.9 888.88 452.3 889.01 454.4 889.14 448.6 889.27 450.3 889.40 447.3 889.53 444.0 889.66 450.9 889.79 451.2 889.92 453.9 890.05 453.2 890.18 450.9 890.31 449.6 890.44 457.6 890.57 458.0 890.70 456.3 890.83 456.7 890.96 459.5 891.09 457.5 891.22 456.5 891.35 462.7 891.48 457.7 891.61 460.5 891.74 464.9 891.87 463.8 892.00 465.8 892.13 467.4 892.26 465.3 892.39 462.4 892.52 462.6 892.65 462.5 892.78 470.2 892.91 467.1 893.04 471.3 893.17 473.3 893.30 475.2 893.43 475.9 893.56 480.1 893.69 479.6 893.82 482.6 893.95 481.7 894.08 483.4 894.21 485.1 894.34 487.2 894.47 489.3 894.60 488.2 894.73 491.9 894.86 497.5 894.99 486.9 895.12 492.8 895.25 490.8 895.38 490.0 895.51 488.7 895.64 487.0 895.77 489.2 895.90 486.7 896.03 490.7 896.16 487.6 896.29 489.9 896.42 486.1 896.55 482.4 896.68 485.6 896.81 484.6 896.94 485.3 897.07 478.1 897.20 482.6 897.33 484.8 897.46 481.4 897.59 476.5 897.72 481.0 897.85 480.6 897.98 481.9 898.11 479.6 898.24 475.8 898.37 479.7 898.40 477.1" fill="none" stroke="#000" stroke-width="2.1" stroke-dasharray="2.1 1.2" stroke-linejoin="round"/>
</svg>
</body></html>
